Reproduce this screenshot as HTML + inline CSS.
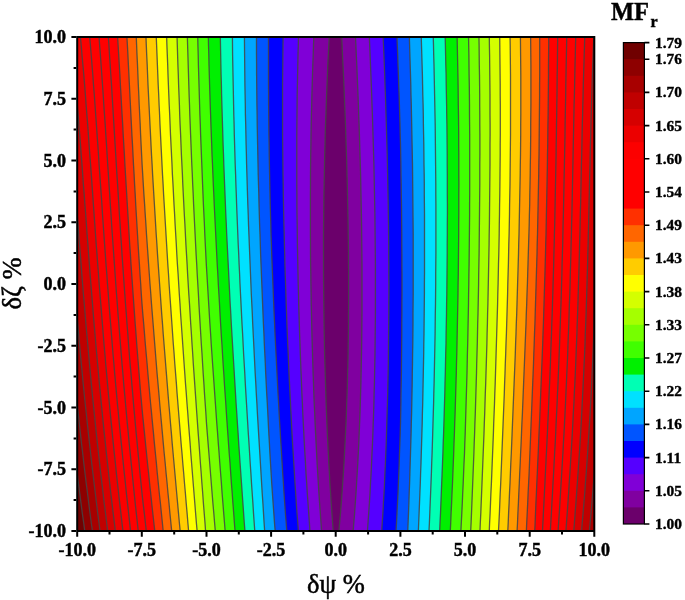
<!DOCTYPE html>
<html lang="en"><head><meta charset="utf-8"><title>MFr contour</title>
<style>html,body{margin:0;padding:0;background:#fff}body{width:685px;height:600px;overflow:hidden}</style></head>
<body>
<svg width="685" height="600" viewBox="0 0 685 600" style="display:block">
<rect width="685" height="600" fill="#fff"/>
<defs><clipPath id="c"><rect x="77.2" y="37.0" width="517.1" height="494.0"/></clipPath></defs>
<g clip-path="url(#c)">
<rect x="77.2" y="37.0" width="517.1" height="494.0" fill="#6b006b"/>
<polygon fill="#8000a0" points="329.3,35.0 328.8,45.0 328.3,54.9 327.8,64.9 327.4,74.8 327.0,84.8 326.6,94.8 326.2,104.7 325.9,114.7 325.5,124.6 325.2,134.6 325.0,144.6 324.7,154.5 324.5,164.5 324.3,174.4 324.1,184.4 323.9,194.4 323.8,204.3 323.7,214.3 323.6,224.2 323.5,234.2 323.5,244.2 323.5,254.1 323.5,264.1 323.5,274.0 323.6,284.0 323.7,294.0 323.8,303.9 323.9,313.9 324.0,323.8 324.2,333.8 324.4,343.8 324.6,353.7 324.9,363.7 325.2,373.6 325.5,383.6 325.8,393.6 326.1,403.5 326.5,413.5 326.9,423.4 327.3,433.4 327.8,443.4 328.3,453.3 328.8,463.3 329.4,473.2 329.9,483.2 330.6,493.2 331.2,503.1 331.9,513.1 332.6,523.0 333.4,533.0 -2.8,533.0 -2.8,35.0"/>
<polygon fill="#8000a0" points="341.6,35.0 342.1,45.0 342.5,54.9 343.0,64.9 343.5,74.8 343.9,84.8 344.3,94.8 344.7,104.7 345.1,114.7 345.5,124.6 345.8,134.6 346.1,144.6 346.5,154.5 346.8,164.5 347.0,174.4 347.3,184.4 347.5,194.4 347.7,204.3 347.9,214.3 348.1,224.2 348.2,234.2 348.4,244.2 348.5,254.1 348.5,264.1 348.6,274.0 348.6,284.0 348.6,294.0 348.6,303.9 348.5,313.9 348.5,323.8 348.4,333.8 348.2,343.8 348.1,353.7 347.9,363.7 347.6,373.6 347.4,383.6 347.1,393.6 346.7,403.5 346.4,413.5 346.0,423.4 345.5,433.4 345.0,443.4 344.5,453.3 344.0,463.3 343.4,473.2 342.7,483.2 342.0,493.2 341.3,503.1 340.5,513.1 339.6,523.0 338.7,533.0 674.3,533.0 674.3,35.0"/>
<polygon fill="#8000d7" points="313.9,35.0 313.5,45.0 313.2,54.9 312.8,64.9 312.5,74.8 312.2,84.8 311.9,94.8 311.7,104.7 311.4,114.7 311.2,124.6 311.0,134.6 310.9,144.6 310.7,154.5 310.6,164.5 310.5,174.4 310.5,184.4 310.4,194.4 310.4,204.3 310.4,214.3 310.4,224.2 310.4,234.2 310.5,244.2 310.5,254.1 310.6,264.1 310.8,274.0 310.9,284.0 311.1,294.0 311.2,303.9 311.5,313.9 311.7,323.8 311.9,333.8 312.2,343.8 312.5,353.7 312.8,363.7 313.1,373.6 313.5,383.6 313.8,393.6 314.2,403.5 314.7,413.5 315.1,423.4 315.6,433.4 316.1,443.4 316.6,453.3 317.1,463.3 317.7,473.2 318.3,483.2 318.9,493.2 319.6,503.1 320.3,513.1 321.0,523.0 321.7,533.0 -2.8,533.0 -2.8,35.0"/>
<polygon fill="#8000d7" points="355.4,35.0 355.9,45.0 356.3,54.9 356.8,64.9 357.2,74.8 357.6,84.8 358.0,94.8 358.4,104.7 358.7,114.7 359.1,124.6 359.4,134.6 359.7,144.6 360.0,154.5 360.3,164.5 360.6,174.4 360.8,184.4 361.0,194.4 361.2,204.3 361.4,214.3 361.6,224.2 361.7,234.2 361.8,244.2 361.9,254.1 362.0,264.1 362.0,274.0 362.0,284.0 362.0,294.0 362.0,303.9 362.0,313.9 361.9,323.8 361.8,333.8 361.7,343.8 361.5,353.7 361.3,363.7 361.1,373.6 360.9,383.6 360.6,393.6 360.3,403.5 360.0,413.5 359.6,423.4 359.2,433.4 358.8,443.4 358.3,453.3 357.8,463.3 357.2,473.2 356.6,483.2 356.0,493.2 355.3,503.1 354.6,513.1 353.8,523.0 353.0,533.0 674.3,533.0 674.3,35.0"/>
<polygon fill="#5500ff" points="298.5,35.0 298.3,45.0 298.0,54.9 297.8,64.9 297.6,74.8 297.4,84.8 297.2,94.8 297.1,104.7 297.0,114.7 296.9,124.6 296.8,134.6 296.8,144.6 296.8,154.5 296.8,164.5 296.8,174.4 296.8,184.4 296.9,194.4 296.9,204.3 297.0,214.3 297.2,224.2 297.3,234.2 297.4,244.2 297.6,254.1 297.8,264.1 298.0,274.0 298.2,284.0 298.5,294.0 298.7,303.9 299.0,313.9 299.3,323.8 299.6,333.8 300.0,343.8 300.3,353.7 300.7,363.7 301.1,373.6 301.5,383.6 301.9,393.6 302.4,403.5 302.8,413.5 303.3,423.4 303.8,433.4 304.3,443.4 304.9,453.3 305.5,463.3 306.0,473.2 306.7,483.2 307.3,493.2 308.0,503.1 308.7,513.1 309.4,523.0 310.1,533.0 -2.8,533.0 -2.8,35.0"/>
<polygon fill="#5500ff" points="369.2,35.0 369.7,45.0 370.1,54.9 370.5,64.9 370.9,74.8 371.3,84.8 371.7,94.8 372.0,104.7 372.4,114.7 372.7,124.6 373.0,134.6 373.3,144.6 373.6,154.5 373.9,164.5 374.1,174.4 374.3,184.4 374.5,194.4 374.7,204.3 374.9,214.3 375.0,224.2 375.1,234.2 375.2,244.2 375.3,254.1 375.4,264.1 375.4,274.0 375.4,284.0 375.4,294.0 375.4,303.9 375.4,313.9 375.3,323.8 375.2,333.8 375.1,343.8 375.0,353.7 374.8,363.7 374.6,373.6 374.4,383.6 374.1,393.6 373.9,403.5 373.6,413.5 373.2,423.4 372.9,433.4 372.5,443.4 372.0,453.3 371.6,463.3 371.1,473.2 370.5,483.2 370.0,493.2 369.4,503.1 368.7,513.1 368.0,523.0 367.3,533.0 674.3,533.0 674.3,35.0"/>
<polygon fill="#0000ff" points="283.2,35.0 283.0,45.0 282.9,54.9 282.8,64.9 282.7,74.8 282.6,84.8 282.6,94.8 282.6,104.7 282.6,114.7 282.6,124.6 282.6,134.6 282.7,144.6 282.8,154.5 282.9,164.5 283.0,174.4 283.2,184.4 283.3,194.4 283.5,204.3 283.7,214.3 283.9,224.2 284.2,234.2 284.4,244.2 284.7,254.1 284.9,264.1 285.2,274.0 285.6,284.0 285.9,294.0 286.2,303.9 286.6,313.9 286.9,323.8 287.3,333.8 287.7,343.8 288.2,353.7 288.6,363.7 289.0,373.6 289.5,383.6 290.0,393.6 290.5,403.5 291.0,413.5 291.5,423.4 292.0,433.4 292.6,443.4 293.2,453.3 293.8,463.3 294.4,473.2 295.0,483.2 295.7,493.2 296.3,503.1 297.0,513.1 297.8,523.0 298.5,533.0 -2.8,533.0 -2.8,35.0"/>
<polygon fill="#0000ff" points="383.0,35.0 383.5,45.0 383.9,54.9 384.3,64.9 384.7,74.8 385.0,84.8 385.4,94.8 385.7,104.7 386.0,114.7 386.3,124.6 386.6,134.6 386.9,144.6 387.2,154.5 387.4,164.5 387.6,174.4 387.8,184.4 388.0,194.4 388.2,204.3 388.3,214.3 388.5,224.2 388.6,234.2 388.7,244.2 388.7,254.1 388.8,264.1 388.8,274.0 388.9,284.0 388.9,294.0 388.8,303.9 388.8,313.9 388.7,323.8 388.6,333.8 388.5,343.8 388.4,353.7 388.3,363.7 388.1,373.6 387.9,383.6 387.7,393.6 387.4,403.5 387.1,413.5 386.8,423.4 386.5,433.4 386.2,443.4 385.8,453.3 385.4,463.3 384.9,473.2 384.5,483.2 384.0,493.2 383.4,503.1 382.9,513.1 382.2,523.0 381.6,533.0 674.3,533.0 674.3,35.0"/>
<polygon fill="#0055ff" points="268.5,35.0 268.5,45.0 268.5,54.9 268.5,64.9 268.5,74.8 268.5,84.8 268.6,94.8 268.6,104.7 268.7,114.7 268.8,124.6 268.9,134.6 269.1,144.6 269.2,154.5 269.4,164.5 269.6,174.4 269.8,184.4 270.0,194.4 270.2,204.3 270.5,214.3 270.8,224.2 271.0,234.2 271.4,244.2 271.7,254.1 272.1,264.1 272.5,274.0 272.9,284.0 273.3,294.0 273.7,303.9 274.1,313.9 274.6,323.8 275.0,333.8 275.5,343.8 276.0,353.7 276.5,363.7 277.0,373.6 277.5,383.6 278.0,393.6 278.6,403.5 279.1,413.5 279.7,423.4 280.3,433.4 280.9,443.4 281.5,453.3 282.1,463.3 282.7,473.2 283.4,483.2 284.0,493.2 284.7,503.1 285.4,513.1 286.2,523.0 286.9,533.0 -2.8,533.0 -2.8,35.0"/>
<polygon fill="#0055ff" points="396.9,35.0 397.3,45.0 397.7,54.9 398.0,64.9 398.4,74.8 398.7,84.8 399.1,94.8 399.4,104.7 399.7,114.7 400.0,124.6 400.2,134.6 400.5,144.6 400.7,154.5 400.9,164.5 401.0,174.4 401.2,184.4 401.3,194.4 401.5,204.3 401.6,214.3 401.7,224.2 401.8,234.2 401.8,244.2 401.9,254.1 401.9,264.1 402.0,274.0 402.0,284.0 402.0,294.0 401.9,303.9 401.9,313.9 401.8,323.8 401.8,333.8 401.7,343.8 401.6,353.7 401.5,363.7 401.4,373.6 401.2,383.6 401.0,393.6 400.9,403.5 400.7,413.5 400.5,423.4 400.2,433.4 399.9,443.4 399.5,453.3 399.2,463.3 398.8,473.2 398.4,483.2 398.0,493.2 397.5,503.1 397.0,513.1 396.5,523.0 395.9,533.0 674.3,533.0 674.3,35.0"/>
<polygon fill="#00a5ff" points="256.5,35.0 256.5,45.0 256.5,54.9 256.6,64.9 256.6,74.8 256.7,84.8 256.8,94.8 256.9,104.7 257.1,114.7 257.2,124.6 257.4,134.6 257.6,144.6 257.8,154.5 258.0,164.5 258.2,174.4 258.5,184.4 258.8,194.4 259.0,204.3 259.3,214.3 259.6,224.2 260.0,234.2 260.3,244.2 260.6,254.1 261.0,264.1 261.4,274.0 261.8,284.0 262.2,294.0 262.6,303.9 263.0,313.9 263.4,323.8 263.9,333.8 264.3,343.8 264.8,353.7 265.3,363.7 265.7,373.6 266.2,383.6 266.7,393.6 267.3,403.5 267.8,413.5 268.3,423.4 268.8,433.4 269.4,443.4 269.9,453.3 270.5,463.3 271.1,473.2 271.7,483.2 272.4,493.2 273.1,503.1 273.8,513.1 274.5,523.0 275.3,533.0 -2.8,533.0 -2.8,35.0"/>
<polygon fill="#00a5ff" points="409.3,35.0 409.6,45.0 409.9,54.9 410.2,64.9 410.5,74.8 410.8,84.8 411.0,94.8 411.3,104.7 411.5,114.7 411.7,124.6 411.9,134.6 412.1,144.6 412.3,154.5 412.5,164.5 412.6,174.4 412.7,184.4 412.8,194.4 412.9,204.3 413.0,214.3 413.1,224.2 413.2,234.2 413.2,244.2 413.2,254.1 413.2,264.1 413.2,274.0 413.2,284.0 413.2,294.0 413.1,303.9 413.0,313.9 413.0,323.8 412.9,333.8 412.8,343.8 412.6,353.7 412.5,363.7 412.3,373.6 412.2,383.6 412.0,393.6 411.8,403.5 411.6,413.5 411.3,423.4 411.1,433.4 410.8,443.4 410.5,453.3 410.2,463.3 409.9,473.2 409.6,483.2 409.2,493.2 408.9,503.1 408.5,513.1 408.1,523.0 407.7,533.0 674.3,533.0 674.3,35.0"/>
<polygon fill="#00e1ff" points="244.4,35.0 244.5,45.0 244.6,54.9 244.7,64.9 244.8,74.8 244.9,84.8 245.1,94.8 245.3,104.7 245.4,114.7 245.7,124.6 245.9,134.6 246.1,144.6 246.4,154.5 246.6,164.5 246.9,174.4 247.2,184.4 247.5,194.4 247.8,204.3 248.2,214.3 248.5,224.2 248.9,234.2 249.3,244.2 249.7,254.1 250.1,264.1 250.5,274.0 250.9,284.0 251.3,294.0 251.8,303.9 252.3,313.9 252.7,323.8 253.2,333.8 253.7,343.8 254.2,353.7 254.7,363.7 255.2,373.6 255.8,383.6 256.3,393.6 256.9,403.5 257.4,413.5 258.0,423.4 258.6,433.4 259.2,443.4 259.8,453.3 260.4,463.3 261.0,473.2 261.6,483.2 262.2,493.2 262.9,503.1 263.5,513.1 264.1,523.0 264.8,533.0 -2.8,533.0 -2.8,35.0"/>
<polygon fill="#00e1ff" points="421.2,35.0 421.5,45.0 421.8,54.9 422.1,64.9 422.4,74.8 422.6,84.8 422.8,94.8 423.1,104.7 423.3,114.7 423.4,124.6 423.6,134.6 423.8,144.6 423.9,154.5 424.0,164.5 424.2,174.4 424.3,184.4 424.3,194.4 424.4,204.3 424.5,214.3 424.5,224.2 424.5,234.2 424.5,244.2 424.5,254.1 424.5,264.1 424.5,274.0 424.4,284.0 424.4,294.0 424.3,303.9 424.2,313.9 424.1,323.8 424.0,333.8 423.8,343.8 423.7,353.7 423.5,363.7 423.3,373.6 423.1,383.6 422.9,393.6 422.7,403.5 422.4,413.5 422.2,423.4 421.9,433.4 421.6,443.4 421.3,453.3 421.0,463.3 420.6,473.2 420.3,483.2 419.9,493.2 419.5,503.1 419.1,513.1 418.7,523.0 418.3,533.0 674.3,533.0 674.3,35.0"/>
<polygon fill="#00ffb4" points="232.4,35.0 232.5,45.0 232.6,54.9 232.8,64.9 233.0,74.8 233.2,84.8 233.4,94.8 233.6,104.7 233.8,114.7 234.1,124.6 234.3,134.6 234.6,144.6 234.9,154.5 235.2,164.5 235.6,174.4 235.9,184.4 236.3,194.4 236.6,204.3 237.0,214.3 237.4,224.2 237.8,234.2 238.2,244.2 238.7,254.1 239.1,264.1 239.6,274.0 240.0,284.0 240.5,294.0 241.0,303.9 241.5,313.9 242.0,323.8 242.6,333.8 243.1,343.8 243.6,353.7 244.2,363.7 244.8,373.6 245.3,383.6 245.9,393.6 246.5,403.5 247.1,413.5 247.7,423.4 248.3,433.4 249.0,443.4 249.6,453.3 250.2,463.3 250.9,473.2 251.5,483.2 252.2,493.2 252.9,503.1 253.5,513.1 254.2,523.0 254.9,533.0 -2.8,533.0 -2.8,35.0"/>
<polygon fill="#00ffb4" points="433.2,35.0 433.5,45.0 433.7,54.9 434.0,64.9 434.2,74.8 434.4,84.8 434.6,94.8 434.8,104.7 435.0,114.7 435.2,124.6 435.3,134.6 435.4,144.6 435.5,154.5 435.6,164.5 435.7,174.4 435.8,184.4 435.8,194.4 435.9,204.3 435.9,214.3 435.9,224.2 435.9,234.2 435.9,244.2 435.9,254.1 435.8,264.1 435.7,274.0 435.7,284.0 435.6,294.0 435.5,303.9 435.3,313.9 435.2,323.8 435.1,333.8 434.9,343.8 434.7,353.7 434.5,363.7 434.3,373.6 434.1,383.6 433.8,393.6 433.6,403.5 433.3,413.5 433.0,423.4 432.7,433.4 432.4,443.4 432.1,453.3 431.7,463.3 431.4,473.2 431.0,483.2 430.6,493.2 430.2,503.1 429.8,513.1 429.4,523.0 428.9,533.0 674.3,533.0 674.3,35.0"/>
<polygon fill="#00f000" points="220.3,35.0 220.5,45.0 220.7,54.9 220.9,64.9 221.1,74.8 221.4,84.8 221.6,94.8 221.9,104.7 222.2,114.7 222.5,124.6 222.8,134.6 223.1,144.6 223.5,154.5 223.8,164.5 224.2,174.4 224.6,184.4 225.0,194.4 225.4,204.3 225.8,214.3 226.3,224.2 226.7,234.2 227.2,244.2 227.7,254.1 228.2,264.1 228.7,274.0 229.2,284.0 229.7,294.0 230.2,303.9 230.8,313.9 231.3,323.8 231.9,333.8 232.5,343.8 233.1,353.7 233.7,363.7 234.3,373.6 234.9,383.6 235.5,393.6 236.1,403.5 236.8,413.5 237.4,423.4 238.1,433.4 238.7,443.4 239.4,453.3 240.1,463.3 240.8,473.2 241.5,483.2 242.2,493.2 242.9,503.1 243.6,513.1 244.3,523.0 245.1,533.0 -2.8,533.0 -2.8,35.0"/>
<polygon fill="#00f000" points="445.1,35.0 445.4,45.0 445.6,54.9 445.8,64.9 446.1,74.8 446.2,84.8 446.4,94.8 446.6,104.7 446.7,114.7 446.9,124.6 447.0,134.6 447.1,144.6 447.2,154.5 447.2,164.5 447.3,174.4 447.3,184.4 447.3,194.4 447.4,204.3 447.4,214.3 447.3,224.2 447.3,234.2 447.2,244.2 447.2,254.1 447.1,264.1 447.0,274.0 446.9,284.0 446.8,294.0 446.6,303.9 446.5,313.9 446.3,323.8 446.1,333.8 446.0,343.8 445.7,353.7 445.5,363.7 445.3,373.6 445.0,383.6 444.8,393.6 444.5,403.5 444.2,413.5 443.9,423.4 443.6,433.4 443.2,443.4 442.9,453.3 442.5,463.3 442.1,473.2 441.7,483.2 441.3,493.2 440.9,503.1 440.5,513.1 440.0,523.0 439.6,533.0 674.3,533.0 674.3,35.0"/>
<polygon fill="#40ff00" points="208.3,35.0 208.5,45.0 208.8,54.9 209.0,64.9 209.3,74.8 209.6,84.8 209.9,94.8 210.2,104.7 210.6,114.7 210.9,124.6 211.3,134.6 211.7,144.6 212.0,154.5 212.5,164.5 212.9,174.4 213.3,184.4 213.8,194.4 214.2,204.3 214.7,214.3 215.2,224.2 215.7,234.2 216.2,244.2 216.7,254.1 217.2,264.1 217.8,274.0 218.3,284.0 218.9,294.0 219.5,303.9 220.0,313.9 220.6,323.8 221.2,333.8 221.9,343.8 222.5,353.7 223.1,363.7 223.8,373.6 224.4,383.6 225.1,393.6 225.8,403.5 226.4,413.5 227.1,423.4 227.8,433.4 228.5,443.4 229.2,453.3 230.0,463.3 230.7,473.2 231.4,483.2 232.2,493.2 232.9,503.1 233.7,513.1 234.4,523.0 235.2,533.0 -2.8,533.0 -2.8,35.0"/>
<polygon fill="#40ff00" points="457.1,35.0 457.3,45.0 457.5,54.9 457.7,64.9 457.9,74.8 458.1,84.8 458.2,94.8 458.3,104.7 458.5,114.7 458.6,124.6 458.7,134.6 458.7,144.6 458.8,154.5 458.8,164.5 458.8,174.4 458.9,184.4 458.8,194.4 458.8,204.3 458.8,214.3 458.7,224.2 458.7,234.2 458.6,244.2 458.5,254.1 458.4,264.1 458.3,274.0 458.1,284.0 458.0,294.0 457.8,303.9 457.6,313.9 457.4,323.8 457.2,333.8 457.0,343.8 456.8,353.7 456.5,363.7 456.3,373.6 456.0,383.6 455.7,393.6 455.4,403.5 455.1,413.5 454.7,423.4 454.4,433.4 454.0,443.4 453.7,453.3 453.3,463.3 452.9,473.2 452.5,483.2 452.0,493.2 451.6,503.1 451.1,513.1 450.7,523.0 450.2,533.0 674.3,533.0 674.3,35.0"/>
<polygon fill="#76ff00" points="197.7,35.0 197.9,45.0 198.2,54.9 198.4,64.9 198.7,74.8 199.0,84.8 199.3,94.8 199.6,104.7 199.9,114.7 200.3,124.6 200.6,134.6 201.0,144.6 201.4,154.5 201.8,164.5 202.2,174.4 202.6,184.4 203.0,194.4 203.4,204.3 203.9,214.3 204.4,224.2 204.8,234.2 205.3,244.2 205.8,254.1 206.3,264.1 206.9,274.0 207.5,284.0 208.1,294.0 208.7,303.9 209.3,313.9 209.9,323.8 210.6,333.8 211.2,343.8 211.9,353.7 212.6,363.7 213.3,373.6 214.0,383.6 214.7,393.6 215.4,403.5 216.1,413.5 216.8,423.4 217.6,433.4 218.3,443.4 219.1,453.3 219.8,463.3 220.6,473.2 221.4,483.2 222.1,493.2 222.9,503.1 223.7,513.1 224.5,523.0 225.3,533.0 -2.8,533.0 -2.8,35.0"/>
<polygon fill="#76ff00" points="468.5,35.0 468.7,45.0 468.9,54.9 469.0,64.9 469.1,74.8 469.3,84.8 469.4,94.8 469.5,104.7 469.5,114.7 469.6,124.6 469.7,134.6 469.7,144.6 469.7,154.5 469.7,164.5 469.7,174.4 469.7,184.4 469.7,194.4 469.6,204.3 469.6,214.3 469.5,224.2 469.4,234.2 469.3,244.2 469.2,254.1 469.1,264.1 468.9,274.0 468.8,284.0 468.6,294.0 468.5,303.9 468.3,313.9 468.1,323.8 467.9,333.8 467.7,343.8 467.4,353.7 467.2,363.7 467.0,373.6 466.7,383.6 466.4,393.6 466.1,403.5 465.8,413.5 465.5,423.4 465.2,433.4 464.8,443.4 464.5,453.3 464.0,463.3 463.6,473.2 463.2,483.2 462.7,493.2 462.3,503.1 461.8,513.1 461.3,523.0 460.8,533.0 674.3,533.0 674.3,35.0"/>
<polygon fill="#a5ff00" points="187.3,35.0 187.6,45.0 187.9,54.9 188.2,64.9 188.5,74.8 188.8,84.8 189.1,94.8 189.5,104.7 189.8,114.7 190.2,124.6 190.6,134.6 191.0,144.6 191.4,154.5 191.8,164.5 192.3,174.4 192.7,184.4 193.2,194.4 193.6,204.3 194.1,214.3 194.6,224.2 195.1,234.2 195.6,244.2 196.1,254.1 196.7,264.1 197.2,274.0 197.8,284.0 198.4,294.0 198.9,303.9 199.5,313.9 200.1,323.8 200.7,333.8 201.3,343.8 202.0,353.7 202.6,363.7 203.2,373.6 203.9,383.6 204.5,393.6 205.2,403.5 205.9,413.5 206.5,423.4 207.3,433.4 208.1,443.4 208.9,453.3 209.7,463.3 210.5,473.2 211.3,483.2 212.1,493.2 212.9,503.1 213.8,513.1 214.6,523.0 215.5,533.0 -2.8,533.0 -2.8,35.0"/>
<polygon fill="#a5ff00" points="478.9,35.0 479.1,45.0 479.2,54.9 479.3,64.9 479.5,74.8 479.6,84.8 479.7,94.8 479.7,104.7 479.8,114.7 479.8,124.6 479.9,134.6 479.9,144.6 479.9,154.5 479.8,164.5 479.8,174.4 479.8,184.4 479.7,194.4 479.6,204.3 479.5,214.3 479.4,224.2 479.3,234.2 479.2,244.2 479.1,254.1 478.9,264.1 478.7,274.0 478.6,284.0 478.4,294.0 478.2,303.9 478.0,313.9 477.7,323.8 477.5,333.8 477.3,343.8 477.0,353.7 476.7,363.7 476.5,373.6 476.2,383.6 475.9,393.6 475.6,403.5 475.3,413.5 474.9,423.4 474.6,433.4 474.2,443.4 473.9,453.3 473.5,463.3 473.1,473.2 472.7,483.2 472.3,493.2 471.9,503.1 471.5,513.1 471.1,523.0 470.6,533.0 674.3,533.0 674.3,35.0"/>
<polygon fill="#d4ff00" points="177.0,35.0 177.3,45.0 177.6,54.9 177.9,64.9 178.3,74.8 178.6,84.8 179.0,94.8 179.4,104.7 179.7,114.7 180.1,124.6 180.6,134.6 181.0,144.6 181.4,154.5 181.9,164.5 182.4,174.4 182.8,184.4 183.3,194.4 183.8,204.3 184.3,214.3 184.9,224.2 185.4,234.2 185.9,244.2 186.5,254.1 187.1,264.1 187.6,274.0 188.2,284.0 188.8,294.0 189.5,303.9 190.1,313.9 190.7,323.8 191.4,333.8 192.0,343.8 192.7,353.7 193.3,363.7 194.0,373.6 194.7,383.6 195.4,393.6 196.1,403.5 196.8,413.5 197.5,423.4 198.2,433.4 199.0,443.4 199.7,453.3 200.4,463.3 201.2,473.2 201.9,483.2 202.7,493.2 203.4,503.1 204.2,513.1 205.0,523.0 205.7,533.0 -2.8,533.0 -2.8,35.0"/>
<polygon fill="#d4ff00" points="489.3,35.0 489.4,45.0 489.6,54.9 489.7,64.9 489.8,74.8 489.9,84.8 490.0,94.8 490.0,104.7 490.0,114.7 490.1,124.6 490.1,134.6 490.0,144.6 490.0,154.5 490.0,164.5 489.9,174.4 489.8,184.4 489.7,194.4 489.6,204.3 489.5,214.3 489.4,224.2 489.2,234.2 489.1,244.2 488.9,254.1 488.7,264.1 488.5,274.0 488.3,284.0 488.1,294.0 487.9,303.9 487.6,313.9 487.4,323.8 487.1,333.8 486.9,343.8 486.6,353.7 486.3,363.7 486.0,373.6 485.7,383.6 485.3,393.6 485.0,403.5 484.7,413.5 484.3,423.4 484.0,433.4 483.6,443.4 483.2,453.3 482.8,463.3 482.4,473.2 482.0,483.2 481.6,493.2 481.2,503.1 480.8,513.1 480.3,523.0 479.9,533.0 674.3,533.0 674.3,35.0"/>
<polygon fill="#ffff00" points="166.6,35.0 166.9,45.0 167.3,54.9 167.7,64.9 168.0,74.8 168.4,84.8 168.8,94.8 169.2,104.7 169.7,114.7 170.1,124.6 170.5,134.6 171.0,144.6 171.5,154.5 172.0,164.5 172.4,174.4 173.0,184.4 173.5,194.4 174.0,204.3 174.6,214.3 175.1,224.2 175.7,234.2 176.3,244.2 176.8,254.1 177.4,264.1 178.1,274.0 178.7,284.0 179.3,294.0 180.0,303.9 180.6,313.9 181.3,323.8 182.0,333.8 182.7,343.8 183.4,353.7 184.1,363.7 184.8,373.6 185.5,383.6 186.3,393.6 187.0,403.5 187.8,413.5 188.5,423.4 189.3,433.4 190.1,443.4 190.8,453.3 191.6,463.3 192.4,473.2 193.2,483.2 194.0,493.2 194.8,503.1 195.6,513.1 196.4,523.0 197.3,533.0 -2.8,533.0 -2.8,35.0"/>
<polygon fill="#ffff00" points="499.7,35.0 499.8,45.0 499.9,54.9 500.0,64.9 500.1,74.8 500.2,84.8 500.2,94.8 500.3,104.7 500.3,114.7 500.3,124.6 500.3,134.6 500.2,144.6 500.2,154.5 500.1,164.5 500.0,174.4 499.9,184.4 499.8,194.4 499.6,204.3 499.5,214.3 499.3,224.2 499.2,234.2 499.0,244.2 498.8,254.1 498.5,264.1 498.3,274.0 498.1,284.0 497.8,294.0 497.6,303.9 497.3,313.9 497.0,323.8 496.7,333.8 496.4,343.8 496.1,353.7 495.8,363.7 495.5,373.6 495.2,383.6 494.8,393.6 494.5,403.5 494.1,413.5 493.7,423.4 493.4,433.4 493.0,443.4 492.6,453.3 492.2,463.3 491.8,473.2 491.4,483.2 490.9,493.2 490.5,503.1 490.1,513.1 489.6,523.0 489.2,533.0 674.3,533.0 674.3,35.0"/>
<polygon fill="#ffcc00" points="156.2,35.0 156.6,45.0 157.0,54.9 157.4,64.9 157.8,74.8 158.2,84.8 158.7,94.8 159.1,104.7 159.6,114.7 160.0,124.6 160.5,134.6 161.0,144.6 161.5,154.5 162.0,164.5 162.5,174.4 163.1,184.4 163.6,194.4 164.2,204.3 164.8,214.3 165.4,224.2 166.0,234.2 166.6,244.2 167.2,254.1 167.8,264.1 168.5,274.0 169.1,284.0 169.8,294.0 170.5,303.9 171.2,313.9 171.9,323.8 172.6,333.8 173.3,343.8 174.1,353.7 174.8,363.7 175.6,373.6 176.4,383.6 177.1,393.6 177.9,403.5 178.7,413.5 179.5,423.4 180.3,433.4 181.1,443.4 182.0,453.3 182.8,463.3 183.7,473.2 184.5,483.2 185.4,493.2 186.2,503.1 187.1,513.1 187.9,523.0 188.8,533.0 -2.8,533.0 -2.8,35.0"/>
<polygon fill="#ffcc00" points="510.0,35.0 510.2,45.0 510.3,54.9 510.4,64.9 510.5,74.8 510.5,84.8 510.5,94.8 510.5,104.7 510.5,114.7 510.5,124.6 510.5,134.6 510.4,144.6 510.3,154.5 510.2,164.5 510.1,174.4 510.0,184.4 509.8,194.4 509.6,204.3 509.5,214.3 509.3,224.2 509.1,234.2 508.8,244.2 508.6,254.1 508.4,264.1 508.1,274.0 507.8,284.0 507.6,294.0 507.3,303.9 507.0,313.9 506.7,323.8 506.4,333.8 506.0,343.8 505.7,353.7 505.3,363.7 505.0,373.6 504.6,383.6 504.3,393.6 503.9,403.5 503.5,413.5 503.1,423.4 502.7,433.4 502.3,443.4 501.9,453.3 501.5,463.3 501.1,473.2 500.7,483.2 500.2,493.2 499.8,503.1 499.4,513.1 498.9,523.0 498.4,533.0 674.3,533.0 674.3,35.0"/>
<polygon fill="#ff9900" points="145.9,35.0 146.3,45.0 146.7,54.9 147.2,64.9 147.6,74.8 148.0,84.8 148.5,94.8 149.0,104.7 149.5,114.7 150.0,124.6 150.5,134.6 151.0,144.6 151.5,154.5 152.1,164.5 152.6,174.4 153.2,184.4 153.8,194.4 154.4,204.3 155.0,214.3 155.6,224.2 156.2,234.2 156.9,244.2 157.5,254.1 158.2,264.1 158.9,274.0 159.6,284.0 160.3,294.0 161.0,303.9 161.7,313.9 162.5,323.8 163.2,333.8 164.0,343.8 164.8,353.7 165.6,363.7 166.4,373.6 167.2,383.6 168.0,393.6 168.8,403.5 169.7,413.5 170.5,423.4 171.4,433.4 172.2,443.4 173.1,453.3 174.0,463.3 174.9,473.2 175.8,483.2 176.7,493.2 177.6,503.1 178.5,513.1 179.4,523.0 180.4,533.0 -2.8,533.0 -2.8,35.0"/>
<polygon fill="#ff9900" points="520.4,35.0 520.5,45.0 520.6,54.9 520.7,64.9 520.8,74.8 520.8,84.8 520.8,94.8 520.8,104.7 520.8,114.7 520.7,124.6 520.7,134.6 520.6,144.6 520.5,154.5 520.3,164.5 520.2,174.4 520.0,184.4 519.8,194.4 519.6,204.3 519.4,214.3 519.2,224.2 519.0,234.2 518.7,244.2 518.5,254.1 518.2,264.1 517.9,274.0 517.6,284.0 517.3,294.0 517.0,303.9 516.7,313.9 516.3,323.8 516.0,333.8 515.6,343.8 515.3,353.7 514.9,363.7 514.5,373.6 514.1,383.6 513.7,393.6 513.3,403.5 512.9,413.5 512.5,423.4 512.1,433.4 511.7,443.4 511.3,453.3 510.8,463.3 510.4,473.2 510.0,483.2 509.5,493.2 509.1,503.1 508.6,513.1 508.2,523.0 507.7,533.0 674.3,533.0 674.3,35.0"/>
<polygon fill="#ff6600" points="136.2,35.0 136.6,45.0 137.0,54.9 137.5,64.9 137.9,74.8 138.3,84.8 138.8,94.8 139.2,104.7 139.7,114.7 140.2,124.6 140.6,134.6 141.1,144.6 141.6,154.5 142.1,164.5 142.7,174.4 143.3,184.4 143.9,194.4 144.6,204.3 145.2,214.3 145.9,224.2 146.5,234.2 147.2,244.2 147.9,254.1 148.6,264.1 149.3,274.0 150.0,284.0 150.8,294.0 151.5,303.9 152.3,313.9 153.1,323.8 153.9,333.8 154.7,343.8 155.5,353.7 156.3,363.7 157.1,373.6 158.0,383.6 158.9,393.6 159.7,403.5 160.6,413.5 161.5,423.4 162.4,433.4 163.3,443.4 164.2,453.3 165.2,463.3 166.1,473.2 167.1,483.2 168.0,493.2 169.0,503.1 169.9,513.1 170.9,523.0 171.9,533.0 -2.8,533.0 -2.8,35.0"/>
<polygon fill="#ff6600" points="530.6,35.0 530.7,45.0 530.8,54.9 530.9,64.9 530.9,74.8 530.9,84.8 530.9,94.8 530.9,104.7 530.8,114.7 530.7,124.6 530.7,134.6 530.6,144.6 530.5,154.5 530.3,164.5 530.2,174.4 530.0,184.4 529.8,194.4 529.7,204.3 529.4,214.3 529.2,224.2 528.9,234.2 528.6,244.2 528.3,254.1 528.0,264.1 527.7,274.0 527.4,284.0 527.0,294.0 526.7,303.9 526.3,313.9 526.0,323.8 525.6,333.8 525.2,343.8 524.8,353.7 524.4,363.7 524.0,373.6 523.6,383.6 523.2,393.6 522.8,403.5 522.4,413.5 521.9,423.4 521.5,433.4 521.1,443.4 520.6,453.3 520.2,463.3 519.7,473.2 519.3,483.2 518.8,493.2 518.4,503.1 517.9,513.1 517.5,523.0 517.0,533.0 674.3,533.0 674.3,35.0"/>
<polygon fill="#ff3000" points="126.8,35.0 127.4,45.0 127.9,54.9 128.4,64.9 128.9,74.8 129.4,84.8 129.9,94.8 130.4,104.7 130.9,114.7 131.4,124.6 131.9,134.6 132.5,144.6 133.0,154.5 133.5,164.5 134.1,174.4 134.6,184.4 135.2,194.4 135.7,204.3 136.3,214.3 136.9,224.2 137.5,234.2 138.1,244.2 138.7,254.1 139.4,264.1 140.0,274.0 140.7,284.0 141.3,294.0 142.0,303.9 142.8,313.9 143.7,323.8 144.5,333.8 145.3,343.8 146.2,353.7 147.1,363.7 147.9,373.6 148.8,383.6 149.7,393.6 150.6,403.5 151.6,413.5 152.5,423.4 153.5,433.4 154.4,443.4 155.4,453.3 156.4,463.3 157.3,473.2 158.3,483.2 159.3,493.2 160.4,503.1 161.4,513.1 162.4,523.0 163.4,533.0 -2.8,533.0 -2.8,35.0"/>
<polygon fill="#ff3000" points="539.7,35.0 539.7,45.0 539.7,54.9 539.7,64.9 539.7,74.8 539.6,84.8 539.6,94.8 539.5,104.7 539.4,114.7 539.3,124.6 539.2,134.6 539.1,144.6 539.0,154.5 538.8,164.5 538.7,174.4 538.5,184.4 538.3,194.4 538.1,204.3 537.9,214.3 537.7,224.2 537.5,234.2 537.2,244.2 537.0,254.1 536.7,264.1 536.4,274.0 536.1,284.0 535.8,294.0 535.5,303.9 535.2,313.9 534.9,323.8 534.5,333.8 534.2,343.8 533.8,353.7 533.5,363.7 533.1,373.6 532.7,383.6 532.3,393.6 531.9,403.5 531.5,413.5 531.1,423.4 530.7,433.4 530.3,443.4 529.9,453.3 529.5,463.3 529.1,473.2 528.6,483.2 528.1,493.2 527.7,503.1 527.2,513.1 526.7,523.0 526.3,533.0 674.3,533.0 674.3,35.0"/>
<polygon fill="#ff0000" points="117.5,35.0 118.1,45.0 118.7,54.9 119.3,64.9 119.9,74.8 120.4,84.8 121.0,94.8 121.5,104.7 122.1,114.7 122.7,124.6 123.2,134.6 123.8,144.6 124.4,154.5 124.9,164.5 125.5,174.4 126.1,184.4 126.7,194.4 127.3,204.3 127.9,214.3 128.5,224.2 129.1,234.2 129.7,244.2 130.4,254.1 131.0,264.1 131.7,274.0 132.4,284.0 133.1,294.0 133.8,303.9 134.5,313.9 135.2,323.8 136.0,333.8 136.7,343.8 137.5,353.7 138.3,363.7 139.1,373.6 139.9,383.6 140.7,393.6 141.6,403.5 142.5,413.5 143.5,423.4 144.5,433.4 145.5,443.4 146.5,453.3 147.5,463.3 148.6,473.2 149.6,483.2 150.7,493.2 151.7,503.1 152.8,513.1 153.9,523.0 155.0,533.0 -2.8,533.0 -2.8,35.0"/>
<polygon fill="#ff0000" points="548.7,35.0 548.7,45.0 548.6,54.9 548.5,64.9 548.5,74.8 548.4,84.8 548.3,94.8 548.2,104.7 548.1,114.7 547.9,124.6 547.8,134.6 547.7,144.6 547.5,154.5 547.4,164.5 547.2,174.4 547.0,184.4 546.8,194.4 546.6,204.3 546.4,214.3 546.2,224.2 546.0,234.2 545.7,244.2 545.5,254.1 545.2,264.1 544.9,274.0 544.6,284.0 544.3,294.0 544.0,303.9 543.7,313.9 543.4,323.8 543.0,333.8 542.7,343.8 542.3,353.7 541.9,363.7 541.5,373.6 541.1,383.6 540.7,393.6 540.3,403.5 539.9,413.5 539.5,423.4 539.0,433.4 538.6,443.4 538.2,453.3 537.7,463.3 537.3,473.2 536.8,483.2 536.4,493.2 535.9,503.1 535.5,513.1 535.1,523.0 534.6,533.0 674.3,533.0 674.3,35.0"/>
<polygon fill="#ff0000" points="108.2,35.0 108.9,45.0 109.5,54.9 110.2,64.9 110.8,74.8 111.5,84.8 112.1,94.8 112.7,104.7 113.3,114.7 113.9,124.6 114.5,134.6 115.1,144.6 115.7,154.5 116.3,164.5 116.9,174.4 117.6,184.4 118.2,194.4 118.8,204.3 119.4,214.3 120.1,224.2 120.7,234.2 121.4,244.2 122.0,254.1 122.7,264.1 123.4,274.0 124.1,284.0 124.8,294.0 125.5,303.9 126.3,313.9 127.0,323.8 127.8,333.8 128.5,343.8 129.3,353.7 130.1,363.7 131.0,373.6 131.8,383.6 132.7,393.6 133.5,403.5 134.4,413.5 135.3,423.4 136.2,433.4 137.2,443.4 138.1,453.3 139.1,463.3 140.0,473.2 141.0,483.2 142.0,493.2 143.1,503.1 144.3,513.1 145.4,523.0 146.5,533.0 -2.8,533.0 -2.8,35.0"/>
<polygon fill="#ff0000" points="557.7,35.0 557.6,45.0 557.5,54.9 557.4,64.9 557.2,74.8 557.1,84.8 557.0,94.8 556.8,104.7 556.7,114.7 556.5,124.6 556.4,134.6 556.2,144.6 556.1,154.5 555.9,164.5 555.7,174.4 555.5,184.4 555.3,194.4 555.1,204.3 554.9,214.3 554.7,224.2 554.4,234.2 554.2,244.2 553.9,254.1 553.7,264.1 553.4,274.0 553.1,284.0 552.8,294.0 552.5,303.9 552.2,313.9 551.8,323.8 551.5,333.8 551.1,343.8 550.7,353.7 550.4,363.7 550.0,373.6 549.6,383.6 549.1,393.6 548.7,403.5 548.3,413.5 547.8,423.4 547.4,433.4 546.9,443.4 546.4,453.3 545.9,463.3 545.4,473.2 544.9,483.2 544.4,493.2 543.9,503.1 543.4,513.1 542.9,523.0 542.4,533.0 674.3,533.0 674.3,35.0"/>
<polygon fill="#ff0000" points="98.9,35.0 99.6,45.0 100.4,54.9 101.1,64.9 101.8,74.8 102.5,84.8 103.2,94.8 103.8,104.7 104.5,114.7 105.2,124.6 105.8,134.6 106.5,144.6 107.1,154.5 107.7,164.5 108.4,174.4 109.0,184.4 109.7,194.4 110.3,204.3 111.0,214.3 111.6,224.2 112.3,234.2 113.0,244.2 113.7,254.1 114.4,264.1 115.1,274.0 115.8,284.0 116.5,294.0 117.3,303.9 118.0,313.9 118.8,323.8 119.6,333.8 120.4,343.8 121.2,353.7 122.0,363.7 122.9,373.6 123.7,383.6 124.6,393.6 125.5,403.5 126.4,413.5 127.3,423.4 128.3,433.4 129.2,443.4 130.2,453.3 131.2,463.3 132.2,473.2 133.2,483.2 134.2,493.2 135.2,503.1 136.3,513.1 137.4,523.0 138.4,533.0 -2.8,533.0 -2.8,35.0"/>
<polygon fill="#ff0000" points="566.8,35.0 566.6,45.0 566.4,54.9 566.2,64.9 566.0,74.8 565.8,84.8 565.7,94.8 565.5,104.7 565.3,114.7 565.1,124.6 565.0,134.6 564.8,144.6 564.6,154.5 564.4,164.5 564.2,174.4 564.0,184.4 563.8,194.4 563.6,204.3 563.4,214.3 563.1,224.2 562.9,234.2 562.7,244.2 562.4,254.1 562.1,264.1 561.9,274.0 561.6,284.0 561.3,294.0 561.0,303.9 560.6,313.9 560.3,323.8 559.9,333.8 559.6,343.8 559.2,353.7 558.8,363.7 558.4,373.6 558.0,383.6 557.5,393.6 557.1,403.5 556.6,413.5 556.1,423.4 555.7,433.4 555.2,443.4 554.6,453.3 554.1,463.3 553.6,473.2 553.0,483.2 552.5,493.2 551.9,503.1 551.4,513.1 550.8,523.0 550.2,533.0 674.3,533.0 674.3,35.0"/>
<polygon fill="#fc0000" points="89.5,35.0 90.4,45.0 91.2,54.9 92.0,64.9 92.8,74.8 93.5,84.8 94.3,94.8 95.0,104.7 95.7,114.7 96.4,124.6 97.1,134.6 97.8,144.6 98.5,154.5 99.1,164.5 99.8,174.4 100.5,184.4 101.2,194.4 101.9,204.3 102.5,214.3 103.2,224.2 103.9,234.2 104.6,244.2 105.3,254.1 106.0,264.1 106.8,274.0 107.5,284.0 108.3,294.0 109.0,303.9 109.8,313.9 110.6,323.8 111.4,333.8 112.2,343.8 113.0,353.7 113.9,363.7 114.7,373.6 115.6,383.6 116.5,393.6 117.4,403.5 118.4,413.5 119.3,423.4 120.3,433.4 121.3,443.4 122.3,453.3 123.3,463.3 124.3,473.2 125.4,483.2 126.4,493.2 127.5,503.1 128.6,513.1 129.7,523.0 130.8,533.0 -2.8,533.0 -2.8,35.0"/>
<polygon fill="#fc0000" points="575.8,35.0 575.5,45.0 575.3,54.9 575.0,64.9 574.8,74.8 574.6,84.8 574.4,94.8 574.1,104.7 573.9,114.7 573.7,124.6 573.5,134.6 573.3,144.6 573.1,154.5 572.9,164.5 572.7,174.4 572.5,184.4 572.3,194.4 572.1,204.3 571.9,214.3 571.6,224.2 571.4,234.2 571.1,244.2 570.9,254.1 570.6,264.1 570.3,274.0 570.1,284.0 569.8,294.0 569.4,303.9 569.1,313.9 568.8,323.8 568.4,333.8 568.0,343.8 567.7,353.7 567.3,363.7 566.8,373.6 566.4,383.6 565.9,393.6 565.5,403.5 565.0,413.5 564.5,423.4 564.0,433.4 563.4,443.4 562.9,453.3 562.3,463.3 561.7,473.2 561.1,483.2 560.5,493.2 559.9,503.1 559.3,513.1 558.6,523.0 558.0,533.0 674.3,533.0 674.3,35.0"/>
<polygon fill="#ec0000" points="80.2,35.0 81.2,45.0 82.0,54.9 82.9,64.9 83.8,74.8 84.6,84.8 85.4,94.8 86.1,104.7 86.9,114.7 87.7,124.6 88.4,134.6 89.1,144.6 89.8,154.5 90.6,164.5 91.3,174.4 92.0,184.4 92.7,194.4 93.4,204.3 94.1,214.3 94.8,224.2 95.5,234.2 96.2,244.2 97.0,254.1 97.7,264.1 98.5,274.0 99.2,284.0 100.0,294.0 100.8,303.9 101.6,313.9 102.4,323.8 103.2,333.8 104.0,343.8 104.9,353.7 105.7,363.7 106.6,373.6 107.5,383.6 108.4,393.6 109.4,403.5 110.3,413.5 111.3,423.4 112.3,433.4 113.3,443.4 114.3,453.3 115.4,463.3 116.4,473.2 117.5,483.2 118.6,493.2 119.7,503.1 120.9,513.1 122.0,523.0 123.2,533.0 -2.8,533.0 -2.8,35.0"/>
<polygon fill="#ec0000" points="584.8,35.0 584.5,45.0 584.2,54.9 583.9,64.9 583.6,74.8 583.3,84.8 583.1,94.8 582.8,104.7 582.6,114.7 582.3,124.6 582.1,134.6 581.9,144.6 581.7,154.5 581.4,164.5 581.2,174.4 581.0,184.4 580.8,194.4 580.6,204.3 580.3,214.3 580.1,224.2 579.9,234.2 579.6,244.2 579.4,254.1 579.1,264.1 578.8,274.0 578.5,284.0 578.2,294.0 577.9,303.9 577.6,313.9 577.2,323.8 576.9,333.8 576.5,343.8 576.1,353.7 575.7,363.7 575.3,373.6 574.8,383.6 574.3,393.6 573.9,403.5 573.3,413.5 572.8,423.4 572.3,433.4 571.7,443.4 571.1,453.3 570.5,463.3 569.9,473.2 569.2,483.2 568.6,493.2 567.9,503.1 567.2,513.1 566.5,523.0 565.8,533.0 674.3,533.0 674.3,35.0"/>
<polygon fill="#d60000" points="70.9,35.0 71.9,45.0 72.9,54.9 73.8,64.9 74.7,74.8 75.6,84.8 76.5,94.8 77.3,104.7 78.1,114.7 78.9,124.6 79.7,134.6 80.5,144.6 81.2,154.5 82.0,164.5 82.7,174.4 83.4,184.4 84.2,194.4 84.9,204.3 85.7,214.3 86.4,224.2 87.1,234.2 87.9,244.2 88.6,254.1 89.4,264.1 90.1,274.0 90.9,284.0 91.7,294.0 92.5,303.9 93.3,313.9 94.1,323.8 95.0,333.8 95.8,343.8 96.7,353.7 97.6,363.7 98.5,373.6 99.4,383.6 100.4,393.6 101.3,403.5 102.3,413.5 103.3,423.4 104.3,433.4 105.4,443.4 106.4,453.3 107.5,463.3 108.6,473.2 109.7,483.2 110.8,493.2 112.0,503.1 113.2,513.1 114.4,523.0 115.6,533.0 -2.8,533.0 -2.8,35.0"/>
<polygon fill="#d60000" points="593.9,35.0 593.5,45.0 593.1,54.9 592.7,64.9 592.4,74.8 592.1,84.8 591.8,94.8 591.5,104.7 591.2,114.7 590.9,124.6 590.7,134.6 590.4,144.6 590.2,154.5 590.0,164.5 589.7,174.4 589.5,184.4 589.3,194.4 589.0,204.3 588.8,214.3 588.6,224.2 588.3,234.2 588.1,244.2 587.8,254.1 587.6,264.1 587.3,274.0 587.0,284.0 586.7,294.0 586.4,303.9 586.1,313.9 585.7,323.8 585.3,333.8 585.0,343.8 584.6,353.7 584.1,363.7 583.7,373.6 583.2,383.6 582.7,393.6 582.2,403.5 581.7,413.5 581.2,423.4 580.6,433.4 580.0,443.4 579.4,453.3 578.7,463.3 578.0,473.2 577.3,483.2 576.6,493.2 575.9,503.1 575.1,513.1 574.4,523.0 573.6,533.0 674.3,533.0 674.3,35.0"/>
<polygon fill="#c00000" points="61.6,35.0 62.7,45.0 63.7,54.9 64.7,64.9 65.7,74.8 66.6,84.8 67.6,94.8 68.4,104.7 69.3,114.7 70.2,124.6 71.0,134.6 71.8,144.6 72.6,154.5 73.4,164.5 74.1,174.4 74.9,184.4 75.7,194.4 76.4,204.3 77.2,214.3 78.0,224.2 78.7,234.2 79.5,244.2 80.3,254.1 81.1,264.1 81.8,274.0 82.6,284.0 83.4,294.0 84.3,303.9 85.1,313.9 85.9,323.8 86.8,333.8 87.7,343.8 88.6,353.7 89.5,363.7 90.4,373.6 91.3,383.6 92.3,393.6 93.3,403.5 94.3,413.5 95.3,423.4 96.3,433.4 97.4,443.4 98.5,453.3 99.6,463.3 100.7,473.2 101.9,483.2 103.1,493.2 104.2,503.1 105.5,513.1 106.7,523.0 107.9,533.0 -2.8,533.0 -2.8,35.0"/>
<polygon fill="#c00000" points="602.9,35.0 602.4,45.0 602.0,54.9 601.5,64.9 601.2,74.8 600.8,84.8 600.4,94.8 600.1,104.7 599.8,114.7 599.5,124.6 599.3,134.6 599.0,144.6 598.7,154.5 598.5,164.5 598.2,174.4 598.0,184.4 597.8,194.4 597.5,204.3 597.3,214.3 597.1,224.2 596.8,234.2 596.6,244.2 596.3,254.1 596.0,264.1 595.8,274.0 595.5,284.0 595.2,294.0 594.9,303.9 594.5,313.9 594.2,323.8 593.8,333.8 593.4,343.8 593.0,353.7 592.6,363.7 592.1,373.6 591.7,383.6 591.2,393.6 590.6,403.5 590.1,413.5 589.5,423.4 588.9,433.4 588.2,443.4 587.6,453.3 586.9,463.3 586.2,473.2 585.4,483.2 584.7,493.2 583.9,503.1 583.1,513.1 582.2,523.0 581.4,533.0 674.3,533.0 674.3,35.0"/>
<polygon fill="#a80000" points="52.3,35.0 53.4,45.0 54.6,54.9 55.6,64.9 56.7,74.8 57.7,84.8 58.7,94.8 59.6,104.7 60.5,114.7 61.4,124.6 62.3,134.6 63.1,144.6 64.0,154.5 64.8,164.5 65.6,174.4 66.4,184.4 67.2,194.4 68.0,204.3 68.8,214.3 69.6,224.2 70.3,234.2 71.1,244.2 71.9,254.1 72.7,264.1 73.5,274.0 74.3,284.0 75.2,294.0 76.0,303.9 76.9,313.9 77.7,323.8 78.6,333.8 79.5,343.8 80.4,353.7 81.3,363.7 82.3,373.6 83.2,383.6 84.2,393.6 85.2,403.5 86.3,413.5 87.3,423.4 88.4,433.4 89.5,443.4 90.6,453.3 91.7,463.3 92.9,473.2 94.1,483.2 95.3,493.2 96.5,503.1 97.7,513.1 99.0,523.0 100.3,533.0 -2.8,533.0 -2.8,35.0"/>
<polygon fill="#a80000" points="611.9,35.0 611.4,45.0 610.9,54.9 610.4,64.9 609.9,74.8 609.5,84.8 609.1,94.8 608.8,104.7 608.4,114.7 608.1,124.6 607.8,134.6 607.5,144.6 607.3,154.5 607.0,164.5 606.8,174.4 606.5,184.4 606.3,194.4 606.0,204.3 605.8,214.3 605.5,224.2 605.3,234.2 605.0,244.2 604.8,254.1 604.5,264.1 604.2,274.0 604.0,284.0 603.7,294.0 603.3,303.9 603.0,313.9 602.7,323.8 602.3,333.8 601.9,343.8 601.5,353.7 601.0,363.7 600.6,373.6 600.1,383.6 599.6,393.6 599.0,403.5 598.4,413.5 597.8,423.4 597.2,433.4 596.5,443.4 595.8,453.3 595.1,463.3 594.3,473.2 593.5,483.2 592.7,493.2 591.9,503.1 591.0,513.1 590.1,523.0 589.2,533.0 674.3,533.0 674.3,35.0"/>
<polygon fill="#8e0000" points="42.9,35.0 44.2,45.0 45.4,54.9 46.6,64.9 47.7,74.8 48.7,84.8 49.8,94.8 50.7,104.7 51.7,114.7 52.6,124.6 53.6,134.6 54.5,144.6 55.3,154.5 56.2,164.5 57.0,174.4 57.9,184.4 58.7,194.4 59.5,204.3 60.3,214.3 61.1,224.2 61.9,234.2 62.8,244.2 63.6,254.1 64.4,264.1 65.2,274.0 66.1,284.0 66.9,294.0 67.8,303.9 68.6,313.9 69.5,323.8 70.4,333.8 71.3,343.8 72.2,353.7 73.2,363.7 74.1,373.6 75.1,383.6 76.1,393.6 77.2,403.5 78.2,413.5 79.3,423.4 80.4,433.4 81.5,443.4 82.7,453.3 83.8,463.3 85.0,473.2 86.2,483.2 87.5,493.2 88.7,503.1 90.0,513.1 91.3,523.0 92.7,533.0 -2.8,533.0 -2.8,35.0"/>
<polygon fill="#700000" points="33.6,35.0 35.0,45.0 36.2,54.9 37.5,64.9 38.6,74.8 39.8,84.8 40.8,94.8 41.9,104.7 42.9,114.7 43.9,124.6 44.9,134.6 45.8,144.6 46.7,154.5 47.6,164.5 48.5,174.4 49.3,184.4 50.2,194.4 51.0,204.3 51.9,214.3 52.7,224.2 53.5,234.2 54.4,244.2 55.2,254.1 56.1,264.1 56.9,274.0 57.8,284.0 58.6,294.0 59.5,303.9 60.4,313.9 61.3,323.8 62.2,333.8 63.1,343.8 64.1,353.7 65.0,363.7 66.0,373.6 67.0,383.6 68.1,393.6 69.1,403.5 70.2,413.5 71.3,423.4 72.4,433.4 73.6,443.4 74.7,453.3 75.9,463.3 77.2,473.2 78.4,483.2 79.7,493.2 81.0,503.1 82.3,513.1 83.7,523.0 85.0,533.0 -2.8,533.0 -2.8,35.0"/>
<g fill="none" stroke="#444" stroke-width="1.3" stroke-opacity="0.85">
<polyline points="329.3,35.0 328.8,45.0 328.3,54.9 327.8,64.9 327.4,74.8 327.0,84.8 326.6,94.8 326.2,104.7 325.9,114.7 325.5,124.6 325.2,134.6 325.0,144.6 324.7,154.5 324.5,164.5 324.3,174.4 324.1,184.4 323.9,194.4 323.8,204.3 323.7,214.3 323.6,224.2 323.5,234.2 323.5,244.2 323.5,254.1 323.5,264.1 323.5,274.0 323.6,284.0 323.7,294.0 323.8,303.9 323.9,313.9 324.0,323.8 324.2,333.8 324.4,343.8 324.6,353.7 324.9,363.7 325.2,373.6 325.5,383.6 325.8,393.6 326.1,403.5 326.5,413.5 326.9,423.4 327.3,433.4 327.8,443.4 328.3,453.3 328.8,463.3 329.4,473.2 329.9,483.2 330.6,493.2 331.2,503.1 331.9,513.1 332.6,523.0 333.4,533.0"/>
<polyline points="341.6,35.0 342.1,45.0 342.5,54.9 343.0,64.9 343.5,74.8 343.9,84.8 344.3,94.8 344.7,104.7 345.1,114.7 345.5,124.6 345.8,134.6 346.1,144.6 346.5,154.5 346.8,164.5 347.0,174.4 347.3,184.4 347.5,194.4 347.7,204.3 347.9,214.3 348.1,224.2 348.2,234.2 348.4,244.2 348.5,254.1 348.5,264.1 348.6,274.0 348.6,284.0 348.6,294.0 348.6,303.9 348.5,313.9 348.5,323.8 348.4,333.8 348.2,343.8 348.1,353.7 347.9,363.7 347.6,373.6 347.4,383.6 347.1,393.6 346.7,403.5 346.4,413.5 346.0,423.4 345.5,433.4 345.0,443.4 344.5,453.3 344.0,463.3 343.4,473.2 342.7,483.2 342.0,493.2 341.3,503.1 340.5,513.1 339.6,523.0 338.7,533.0"/>
<polyline points="313.9,35.0 313.5,45.0 313.2,54.9 312.8,64.9 312.5,74.8 312.2,84.8 311.9,94.8 311.7,104.7 311.4,114.7 311.2,124.6 311.0,134.6 310.9,144.6 310.7,154.5 310.6,164.5 310.5,174.4 310.5,184.4 310.4,194.4 310.4,204.3 310.4,214.3 310.4,224.2 310.4,234.2 310.5,244.2 310.5,254.1 310.6,264.1 310.8,274.0 310.9,284.0 311.1,294.0 311.2,303.9 311.5,313.9 311.7,323.8 311.9,333.8 312.2,343.8 312.5,353.7 312.8,363.7 313.1,373.6 313.5,383.6 313.8,393.6 314.2,403.5 314.7,413.5 315.1,423.4 315.6,433.4 316.1,443.4 316.6,453.3 317.1,463.3 317.7,473.2 318.3,483.2 318.9,493.2 319.6,503.1 320.3,513.1 321.0,523.0 321.7,533.0"/>
<polyline points="355.4,35.0 355.9,45.0 356.3,54.9 356.8,64.9 357.2,74.8 357.6,84.8 358.0,94.8 358.4,104.7 358.7,114.7 359.1,124.6 359.4,134.6 359.7,144.6 360.0,154.5 360.3,164.5 360.6,174.4 360.8,184.4 361.0,194.4 361.2,204.3 361.4,214.3 361.6,224.2 361.7,234.2 361.8,244.2 361.9,254.1 362.0,264.1 362.0,274.0 362.0,284.0 362.0,294.0 362.0,303.9 362.0,313.9 361.9,323.8 361.8,333.8 361.7,343.8 361.5,353.7 361.3,363.7 361.1,373.6 360.9,383.6 360.6,393.6 360.3,403.5 360.0,413.5 359.6,423.4 359.2,433.4 358.8,443.4 358.3,453.3 357.8,463.3 357.2,473.2 356.6,483.2 356.0,493.2 355.3,503.1 354.6,513.1 353.8,523.0 353.0,533.0"/>
<polyline points="298.5,35.0 298.3,45.0 298.0,54.9 297.8,64.9 297.6,74.8 297.4,84.8 297.2,94.8 297.1,104.7 297.0,114.7 296.9,124.6 296.8,134.6 296.8,144.6 296.8,154.5 296.8,164.5 296.8,174.4 296.8,184.4 296.9,194.4 296.9,204.3 297.0,214.3 297.2,224.2 297.3,234.2 297.4,244.2 297.6,254.1 297.8,264.1 298.0,274.0 298.2,284.0 298.5,294.0 298.7,303.9 299.0,313.9 299.3,323.8 299.6,333.8 300.0,343.8 300.3,353.7 300.7,363.7 301.1,373.6 301.5,383.6 301.9,393.6 302.4,403.5 302.8,413.5 303.3,423.4 303.8,433.4 304.3,443.4 304.9,453.3 305.5,463.3 306.0,473.2 306.7,483.2 307.3,493.2 308.0,503.1 308.7,513.1 309.4,523.0 310.1,533.0"/>
<polyline points="369.2,35.0 369.7,45.0 370.1,54.9 370.5,64.9 370.9,74.8 371.3,84.8 371.7,94.8 372.0,104.7 372.4,114.7 372.7,124.6 373.0,134.6 373.3,144.6 373.6,154.5 373.9,164.5 374.1,174.4 374.3,184.4 374.5,194.4 374.7,204.3 374.9,214.3 375.0,224.2 375.1,234.2 375.2,244.2 375.3,254.1 375.4,264.1 375.4,274.0 375.4,284.0 375.4,294.0 375.4,303.9 375.4,313.9 375.3,323.8 375.2,333.8 375.1,343.8 375.0,353.7 374.8,363.7 374.6,373.6 374.4,383.6 374.1,393.6 373.9,403.5 373.6,413.5 373.2,423.4 372.9,433.4 372.5,443.4 372.0,453.3 371.6,463.3 371.1,473.2 370.5,483.2 370.0,493.2 369.4,503.1 368.7,513.1 368.0,523.0 367.3,533.0"/>
<polyline points="283.2,35.0 283.0,45.0 282.9,54.9 282.8,64.9 282.7,74.8 282.6,84.8 282.6,94.8 282.6,104.7 282.6,114.7 282.6,124.6 282.6,134.6 282.7,144.6 282.8,154.5 282.9,164.5 283.0,174.4 283.2,184.4 283.3,194.4 283.5,204.3 283.7,214.3 283.9,224.2 284.2,234.2 284.4,244.2 284.7,254.1 284.9,264.1 285.2,274.0 285.6,284.0 285.9,294.0 286.2,303.9 286.6,313.9 286.9,323.8 287.3,333.8 287.7,343.8 288.2,353.7 288.6,363.7 289.0,373.6 289.5,383.6 290.0,393.6 290.5,403.5 291.0,413.5 291.5,423.4 292.0,433.4 292.6,443.4 293.2,453.3 293.8,463.3 294.4,473.2 295.0,483.2 295.7,493.2 296.3,503.1 297.0,513.1 297.8,523.0 298.5,533.0"/>
<polyline points="383.0,35.0 383.5,45.0 383.9,54.9 384.3,64.9 384.7,74.8 385.0,84.8 385.4,94.8 385.7,104.7 386.0,114.7 386.3,124.6 386.6,134.6 386.9,144.6 387.2,154.5 387.4,164.5 387.6,174.4 387.8,184.4 388.0,194.4 388.2,204.3 388.3,214.3 388.5,224.2 388.6,234.2 388.7,244.2 388.7,254.1 388.8,264.1 388.8,274.0 388.9,284.0 388.9,294.0 388.8,303.9 388.8,313.9 388.7,323.8 388.6,333.8 388.5,343.8 388.4,353.7 388.3,363.7 388.1,373.6 387.9,383.6 387.7,393.6 387.4,403.5 387.1,413.5 386.8,423.4 386.5,433.4 386.2,443.4 385.8,453.3 385.4,463.3 384.9,473.2 384.5,483.2 384.0,493.2 383.4,503.1 382.9,513.1 382.2,523.0 381.6,533.0"/>
<polyline points="268.5,35.0 268.5,45.0 268.5,54.9 268.5,64.9 268.5,74.8 268.5,84.8 268.6,94.8 268.6,104.7 268.7,114.7 268.8,124.6 268.9,134.6 269.1,144.6 269.2,154.5 269.4,164.5 269.6,174.4 269.8,184.4 270.0,194.4 270.2,204.3 270.5,214.3 270.8,224.2 271.0,234.2 271.4,244.2 271.7,254.1 272.1,264.1 272.5,274.0 272.9,284.0 273.3,294.0 273.7,303.9 274.1,313.9 274.6,323.8 275.0,333.8 275.5,343.8 276.0,353.7 276.5,363.7 277.0,373.6 277.5,383.6 278.0,393.6 278.6,403.5 279.1,413.5 279.7,423.4 280.3,433.4 280.9,443.4 281.5,453.3 282.1,463.3 282.7,473.2 283.4,483.2 284.0,493.2 284.7,503.1 285.4,513.1 286.2,523.0 286.9,533.0"/>
<polyline points="396.9,35.0 397.3,45.0 397.7,54.9 398.0,64.9 398.4,74.8 398.7,84.8 399.1,94.8 399.4,104.7 399.7,114.7 400.0,124.6 400.2,134.6 400.5,144.6 400.7,154.5 400.9,164.5 401.0,174.4 401.2,184.4 401.3,194.4 401.5,204.3 401.6,214.3 401.7,224.2 401.8,234.2 401.8,244.2 401.9,254.1 401.9,264.1 402.0,274.0 402.0,284.0 402.0,294.0 401.9,303.9 401.9,313.9 401.8,323.8 401.8,333.8 401.7,343.8 401.6,353.7 401.5,363.7 401.4,373.6 401.2,383.6 401.0,393.6 400.9,403.5 400.7,413.5 400.5,423.4 400.2,433.4 399.9,443.4 399.5,453.3 399.2,463.3 398.8,473.2 398.4,483.2 398.0,493.2 397.5,503.1 397.0,513.1 396.5,523.0 395.9,533.0"/>
<polyline points="256.5,35.0 256.5,45.0 256.5,54.9 256.6,64.9 256.6,74.8 256.7,84.8 256.8,94.8 256.9,104.7 257.1,114.7 257.2,124.6 257.4,134.6 257.6,144.6 257.8,154.5 258.0,164.5 258.2,174.4 258.5,184.4 258.8,194.4 259.0,204.3 259.3,214.3 259.6,224.2 260.0,234.2 260.3,244.2 260.6,254.1 261.0,264.1 261.4,274.0 261.8,284.0 262.2,294.0 262.6,303.9 263.0,313.9 263.4,323.8 263.9,333.8 264.3,343.8 264.8,353.7 265.3,363.7 265.7,373.6 266.2,383.6 266.7,393.6 267.3,403.5 267.8,413.5 268.3,423.4 268.8,433.4 269.4,443.4 269.9,453.3 270.5,463.3 271.1,473.2 271.7,483.2 272.4,493.2 273.1,503.1 273.8,513.1 274.5,523.0 275.3,533.0"/>
<polyline points="409.3,35.0 409.6,45.0 409.9,54.9 410.2,64.9 410.5,74.8 410.8,84.8 411.0,94.8 411.3,104.7 411.5,114.7 411.7,124.6 411.9,134.6 412.1,144.6 412.3,154.5 412.5,164.5 412.6,174.4 412.7,184.4 412.8,194.4 412.9,204.3 413.0,214.3 413.1,224.2 413.2,234.2 413.2,244.2 413.2,254.1 413.2,264.1 413.2,274.0 413.2,284.0 413.2,294.0 413.1,303.9 413.0,313.9 413.0,323.8 412.9,333.8 412.8,343.8 412.6,353.7 412.5,363.7 412.3,373.6 412.2,383.6 412.0,393.6 411.8,403.5 411.6,413.5 411.3,423.4 411.1,433.4 410.8,443.4 410.5,453.3 410.2,463.3 409.9,473.2 409.6,483.2 409.2,493.2 408.9,503.1 408.5,513.1 408.1,523.0 407.7,533.0"/>
<polyline points="244.4,35.0 244.5,45.0 244.6,54.9 244.7,64.9 244.8,74.8 244.9,84.8 245.1,94.8 245.3,104.7 245.4,114.7 245.7,124.6 245.9,134.6 246.1,144.6 246.4,154.5 246.6,164.5 246.9,174.4 247.2,184.4 247.5,194.4 247.8,204.3 248.2,214.3 248.5,224.2 248.9,234.2 249.3,244.2 249.7,254.1 250.1,264.1 250.5,274.0 250.9,284.0 251.3,294.0 251.8,303.9 252.3,313.9 252.7,323.8 253.2,333.8 253.7,343.8 254.2,353.7 254.7,363.7 255.2,373.6 255.8,383.6 256.3,393.6 256.9,403.5 257.4,413.5 258.0,423.4 258.6,433.4 259.2,443.4 259.8,453.3 260.4,463.3 261.0,473.2 261.6,483.2 262.2,493.2 262.9,503.1 263.5,513.1 264.1,523.0 264.8,533.0"/>
<polyline points="421.2,35.0 421.5,45.0 421.8,54.9 422.1,64.9 422.4,74.8 422.6,84.8 422.8,94.8 423.1,104.7 423.3,114.7 423.4,124.6 423.6,134.6 423.8,144.6 423.9,154.5 424.0,164.5 424.2,174.4 424.3,184.4 424.3,194.4 424.4,204.3 424.5,214.3 424.5,224.2 424.5,234.2 424.5,244.2 424.5,254.1 424.5,264.1 424.5,274.0 424.4,284.0 424.4,294.0 424.3,303.9 424.2,313.9 424.1,323.8 424.0,333.8 423.8,343.8 423.7,353.7 423.5,363.7 423.3,373.6 423.1,383.6 422.9,393.6 422.7,403.5 422.4,413.5 422.2,423.4 421.9,433.4 421.6,443.4 421.3,453.3 421.0,463.3 420.6,473.2 420.3,483.2 419.9,493.2 419.5,503.1 419.1,513.1 418.7,523.0 418.3,533.0"/>
<polyline points="232.4,35.0 232.5,45.0 232.6,54.9 232.8,64.9 233.0,74.8 233.2,84.8 233.4,94.8 233.6,104.7 233.8,114.7 234.1,124.6 234.3,134.6 234.6,144.6 234.9,154.5 235.2,164.5 235.6,174.4 235.9,184.4 236.3,194.4 236.6,204.3 237.0,214.3 237.4,224.2 237.8,234.2 238.2,244.2 238.7,254.1 239.1,264.1 239.6,274.0 240.0,284.0 240.5,294.0 241.0,303.9 241.5,313.9 242.0,323.8 242.6,333.8 243.1,343.8 243.6,353.7 244.2,363.7 244.8,373.6 245.3,383.6 245.9,393.6 246.5,403.5 247.1,413.5 247.7,423.4 248.3,433.4 249.0,443.4 249.6,453.3 250.2,463.3 250.9,473.2 251.5,483.2 252.2,493.2 252.9,503.1 253.5,513.1 254.2,523.0 254.9,533.0"/>
<polyline points="433.2,35.0 433.5,45.0 433.7,54.9 434.0,64.9 434.2,74.8 434.4,84.8 434.6,94.8 434.8,104.7 435.0,114.7 435.2,124.6 435.3,134.6 435.4,144.6 435.5,154.5 435.6,164.5 435.7,174.4 435.8,184.4 435.8,194.4 435.9,204.3 435.9,214.3 435.9,224.2 435.9,234.2 435.9,244.2 435.9,254.1 435.8,264.1 435.7,274.0 435.7,284.0 435.6,294.0 435.5,303.9 435.3,313.9 435.2,323.8 435.1,333.8 434.9,343.8 434.7,353.7 434.5,363.7 434.3,373.6 434.1,383.6 433.8,393.6 433.6,403.5 433.3,413.5 433.0,423.4 432.7,433.4 432.4,443.4 432.1,453.3 431.7,463.3 431.4,473.2 431.0,483.2 430.6,493.2 430.2,503.1 429.8,513.1 429.4,523.0 428.9,533.0"/>
<polyline points="220.3,35.0 220.5,45.0 220.7,54.9 220.9,64.9 221.1,74.8 221.4,84.8 221.6,94.8 221.9,104.7 222.2,114.7 222.5,124.6 222.8,134.6 223.1,144.6 223.5,154.5 223.8,164.5 224.2,174.4 224.6,184.4 225.0,194.4 225.4,204.3 225.8,214.3 226.3,224.2 226.7,234.2 227.2,244.2 227.7,254.1 228.2,264.1 228.7,274.0 229.2,284.0 229.7,294.0 230.2,303.9 230.8,313.9 231.3,323.8 231.9,333.8 232.5,343.8 233.1,353.7 233.7,363.7 234.3,373.6 234.9,383.6 235.5,393.6 236.1,403.5 236.8,413.5 237.4,423.4 238.1,433.4 238.7,443.4 239.4,453.3 240.1,463.3 240.8,473.2 241.5,483.2 242.2,493.2 242.9,503.1 243.6,513.1 244.3,523.0 245.1,533.0"/>
<polyline points="445.1,35.0 445.4,45.0 445.6,54.9 445.8,64.9 446.1,74.8 446.2,84.8 446.4,94.8 446.6,104.7 446.7,114.7 446.9,124.6 447.0,134.6 447.1,144.6 447.2,154.5 447.2,164.5 447.3,174.4 447.3,184.4 447.3,194.4 447.4,204.3 447.4,214.3 447.3,224.2 447.3,234.2 447.2,244.2 447.2,254.1 447.1,264.1 447.0,274.0 446.9,284.0 446.8,294.0 446.6,303.9 446.5,313.9 446.3,323.8 446.1,333.8 446.0,343.8 445.7,353.7 445.5,363.7 445.3,373.6 445.0,383.6 444.8,393.6 444.5,403.5 444.2,413.5 443.9,423.4 443.6,433.4 443.2,443.4 442.9,453.3 442.5,463.3 442.1,473.2 441.7,483.2 441.3,493.2 440.9,503.1 440.5,513.1 440.0,523.0 439.6,533.0"/>
<polyline points="208.3,35.0 208.5,45.0 208.8,54.9 209.0,64.9 209.3,74.8 209.6,84.8 209.9,94.8 210.2,104.7 210.6,114.7 210.9,124.6 211.3,134.6 211.7,144.6 212.0,154.5 212.5,164.5 212.9,174.4 213.3,184.4 213.8,194.4 214.2,204.3 214.7,214.3 215.2,224.2 215.7,234.2 216.2,244.2 216.7,254.1 217.2,264.1 217.8,274.0 218.3,284.0 218.9,294.0 219.5,303.9 220.0,313.9 220.6,323.8 221.2,333.8 221.9,343.8 222.5,353.7 223.1,363.7 223.8,373.6 224.4,383.6 225.1,393.6 225.8,403.5 226.4,413.5 227.1,423.4 227.8,433.4 228.5,443.4 229.2,453.3 230.0,463.3 230.7,473.2 231.4,483.2 232.2,493.2 232.9,503.1 233.7,513.1 234.4,523.0 235.2,533.0"/>
<polyline points="457.1,35.0 457.3,45.0 457.5,54.9 457.7,64.9 457.9,74.8 458.1,84.8 458.2,94.8 458.3,104.7 458.5,114.7 458.6,124.6 458.7,134.6 458.7,144.6 458.8,154.5 458.8,164.5 458.8,174.4 458.9,184.4 458.8,194.4 458.8,204.3 458.8,214.3 458.7,224.2 458.7,234.2 458.6,244.2 458.5,254.1 458.4,264.1 458.3,274.0 458.1,284.0 458.0,294.0 457.8,303.9 457.6,313.9 457.4,323.8 457.2,333.8 457.0,343.8 456.8,353.7 456.5,363.7 456.3,373.6 456.0,383.6 455.7,393.6 455.4,403.5 455.1,413.5 454.7,423.4 454.4,433.4 454.0,443.4 453.7,453.3 453.3,463.3 452.9,473.2 452.5,483.2 452.0,493.2 451.6,503.1 451.1,513.1 450.7,523.0 450.2,533.0"/>
<polyline points="197.7,35.0 197.9,45.0 198.2,54.9 198.4,64.9 198.7,74.8 199.0,84.8 199.3,94.8 199.6,104.7 199.9,114.7 200.3,124.6 200.6,134.6 201.0,144.6 201.4,154.5 201.8,164.5 202.2,174.4 202.6,184.4 203.0,194.4 203.4,204.3 203.9,214.3 204.4,224.2 204.8,234.2 205.3,244.2 205.8,254.1 206.3,264.1 206.9,274.0 207.5,284.0 208.1,294.0 208.7,303.9 209.3,313.9 209.9,323.8 210.6,333.8 211.2,343.8 211.9,353.7 212.6,363.7 213.3,373.6 214.0,383.6 214.7,393.6 215.4,403.5 216.1,413.5 216.8,423.4 217.6,433.4 218.3,443.4 219.1,453.3 219.8,463.3 220.6,473.2 221.4,483.2 222.1,493.2 222.9,503.1 223.7,513.1 224.5,523.0 225.3,533.0"/>
<polyline points="468.5,35.0 468.7,45.0 468.9,54.9 469.0,64.9 469.1,74.8 469.3,84.8 469.4,94.8 469.5,104.7 469.5,114.7 469.6,124.6 469.7,134.6 469.7,144.6 469.7,154.5 469.7,164.5 469.7,174.4 469.7,184.4 469.7,194.4 469.6,204.3 469.6,214.3 469.5,224.2 469.4,234.2 469.3,244.2 469.2,254.1 469.1,264.1 468.9,274.0 468.8,284.0 468.6,294.0 468.5,303.9 468.3,313.9 468.1,323.8 467.9,333.8 467.7,343.8 467.4,353.7 467.2,363.7 467.0,373.6 466.7,383.6 466.4,393.6 466.1,403.5 465.8,413.5 465.5,423.4 465.2,433.4 464.8,443.4 464.5,453.3 464.0,463.3 463.6,473.2 463.2,483.2 462.7,493.2 462.3,503.1 461.8,513.1 461.3,523.0 460.8,533.0"/>
<polyline points="187.3,35.0 187.6,45.0 187.9,54.9 188.2,64.9 188.5,74.8 188.8,84.8 189.1,94.8 189.5,104.7 189.8,114.7 190.2,124.6 190.6,134.6 191.0,144.6 191.4,154.5 191.8,164.5 192.3,174.4 192.7,184.4 193.2,194.4 193.6,204.3 194.1,214.3 194.6,224.2 195.1,234.2 195.6,244.2 196.1,254.1 196.7,264.1 197.2,274.0 197.8,284.0 198.4,294.0 198.9,303.9 199.5,313.9 200.1,323.8 200.7,333.8 201.3,343.8 202.0,353.7 202.6,363.7 203.2,373.6 203.9,383.6 204.5,393.6 205.2,403.5 205.9,413.5 206.5,423.4 207.3,433.4 208.1,443.4 208.9,453.3 209.7,463.3 210.5,473.2 211.3,483.2 212.1,493.2 212.9,503.1 213.8,513.1 214.6,523.0 215.5,533.0"/>
<polyline points="478.9,35.0 479.1,45.0 479.2,54.9 479.3,64.9 479.5,74.8 479.6,84.8 479.7,94.8 479.7,104.7 479.8,114.7 479.8,124.6 479.9,134.6 479.9,144.6 479.9,154.5 479.8,164.5 479.8,174.4 479.8,184.4 479.7,194.4 479.6,204.3 479.5,214.3 479.4,224.2 479.3,234.2 479.2,244.2 479.1,254.1 478.9,264.1 478.7,274.0 478.6,284.0 478.4,294.0 478.2,303.9 478.0,313.9 477.7,323.8 477.5,333.8 477.3,343.8 477.0,353.7 476.7,363.7 476.5,373.6 476.2,383.6 475.9,393.6 475.6,403.5 475.3,413.5 474.9,423.4 474.6,433.4 474.2,443.4 473.9,453.3 473.5,463.3 473.1,473.2 472.7,483.2 472.3,493.2 471.9,503.1 471.5,513.1 471.1,523.0 470.6,533.0"/>
<polyline points="177.0,35.0 177.3,45.0 177.6,54.9 177.9,64.9 178.3,74.8 178.6,84.8 179.0,94.8 179.4,104.7 179.7,114.7 180.1,124.6 180.6,134.6 181.0,144.6 181.4,154.5 181.9,164.5 182.4,174.4 182.8,184.4 183.3,194.4 183.8,204.3 184.3,214.3 184.9,224.2 185.4,234.2 185.9,244.2 186.5,254.1 187.1,264.1 187.6,274.0 188.2,284.0 188.8,294.0 189.5,303.9 190.1,313.9 190.7,323.8 191.4,333.8 192.0,343.8 192.7,353.7 193.3,363.7 194.0,373.6 194.7,383.6 195.4,393.6 196.1,403.5 196.8,413.5 197.5,423.4 198.2,433.4 199.0,443.4 199.7,453.3 200.4,463.3 201.2,473.2 201.9,483.2 202.7,493.2 203.4,503.1 204.2,513.1 205.0,523.0 205.7,533.0"/>
<polyline points="489.3,35.0 489.4,45.0 489.6,54.9 489.7,64.9 489.8,74.8 489.9,84.8 490.0,94.8 490.0,104.7 490.0,114.7 490.1,124.6 490.1,134.6 490.0,144.6 490.0,154.5 490.0,164.5 489.9,174.4 489.8,184.4 489.7,194.4 489.6,204.3 489.5,214.3 489.4,224.2 489.2,234.2 489.1,244.2 488.9,254.1 488.7,264.1 488.5,274.0 488.3,284.0 488.1,294.0 487.9,303.9 487.6,313.9 487.4,323.8 487.1,333.8 486.9,343.8 486.6,353.7 486.3,363.7 486.0,373.6 485.7,383.6 485.3,393.6 485.0,403.5 484.7,413.5 484.3,423.4 484.0,433.4 483.6,443.4 483.2,453.3 482.8,463.3 482.4,473.2 482.0,483.2 481.6,493.2 481.2,503.1 480.8,513.1 480.3,523.0 479.9,533.0"/>
<polyline points="166.6,35.0 166.9,45.0 167.3,54.9 167.7,64.9 168.0,74.8 168.4,84.8 168.8,94.8 169.2,104.7 169.7,114.7 170.1,124.6 170.5,134.6 171.0,144.6 171.5,154.5 172.0,164.5 172.4,174.4 173.0,184.4 173.5,194.4 174.0,204.3 174.6,214.3 175.1,224.2 175.7,234.2 176.3,244.2 176.8,254.1 177.4,264.1 178.1,274.0 178.7,284.0 179.3,294.0 180.0,303.9 180.6,313.9 181.3,323.8 182.0,333.8 182.7,343.8 183.4,353.7 184.1,363.7 184.8,373.6 185.5,383.6 186.3,393.6 187.0,403.5 187.8,413.5 188.5,423.4 189.3,433.4 190.1,443.4 190.8,453.3 191.6,463.3 192.4,473.2 193.2,483.2 194.0,493.2 194.8,503.1 195.6,513.1 196.4,523.0 197.3,533.0"/>
<polyline points="499.7,35.0 499.8,45.0 499.9,54.9 500.0,64.9 500.1,74.8 500.2,84.8 500.2,94.8 500.3,104.7 500.3,114.7 500.3,124.6 500.3,134.6 500.2,144.6 500.2,154.5 500.1,164.5 500.0,174.4 499.9,184.4 499.8,194.4 499.6,204.3 499.5,214.3 499.3,224.2 499.2,234.2 499.0,244.2 498.8,254.1 498.5,264.1 498.3,274.0 498.1,284.0 497.8,294.0 497.6,303.9 497.3,313.9 497.0,323.8 496.7,333.8 496.4,343.8 496.1,353.7 495.8,363.7 495.5,373.6 495.2,383.6 494.8,393.6 494.5,403.5 494.1,413.5 493.7,423.4 493.4,433.4 493.0,443.4 492.6,453.3 492.2,463.3 491.8,473.2 491.4,483.2 490.9,493.2 490.5,503.1 490.1,513.1 489.6,523.0 489.2,533.0"/>
<polyline points="156.2,35.0 156.6,45.0 157.0,54.9 157.4,64.9 157.8,74.8 158.2,84.8 158.7,94.8 159.1,104.7 159.6,114.7 160.0,124.6 160.5,134.6 161.0,144.6 161.5,154.5 162.0,164.5 162.5,174.4 163.1,184.4 163.6,194.4 164.2,204.3 164.8,214.3 165.4,224.2 166.0,234.2 166.6,244.2 167.2,254.1 167.8,264.1 168.5,274.0 169.1,284.0 169.8,294.0 170.5,303.9 171.2,313.9 171.9,323.8 172.6,333.8 173.3,343.8 174.1,353.7 174.8,363.7 175.6,373.6 176.4,383.6 177.1,393.6 177.9,403.5 178.7,413.5 179.5,423.4 180.3,433.4 181.1,443.4 182.0,453.3 182.8,463.3 183.7,473.2 184.5,483.2 185.4,493.2 186.2,503.1 187.1,513.1 187.9,523.0 188.8,533.0"/>
<polyline points="510.0,35.0 510.2,45.0 510.3,54.9 510.4,64.9 510.5,74.8 510.5,84.8 510.5,94.8 510.5,104.7 510.5,114.7 510.5,124.6 510.5,134.6 510.4,144.6 510.3,154.5 510.2,164.5 510.1,174.4 510.0,184.4 509.8,194.4 509.6,204.3 509.5,214.3 509.3,224.2 509.1,234.2 508.8,244.2 508.6,254.1 508.4,264.1 508.1,274.0 507.8,284.0 507.6,294.0 507.3,303.9 507.0,313.9 506.7,323.8 506.4,333.8 506.0,343.8 505.7,353.7 505.3,363.7 505.0,373.6 504.6,383.6 504.3,393.6 503.9,403.5 503.5,413.5 503.1,423.4 502.7,433.4 502.3,443.4 501.9,453.3 501.5,463.3 501.1,473.2 500.7,483.2 500.2,493.2 499.8,503.1 499.4,513.1 498.9,523.0 498.4,533.0"/>
<polyline points="145.9,35.0 146.3,45.0 146.7,54.9 147.2,64.9 147.6,74.8 148.0,84.8 148.5,94.8 149.0,104.7 149.5,114.7 150.0,124.6 150.5,134.6 151.0,144.6 151.5,154.5 152.1,164.5 152.6,174.4 153.2,184.4 153.8,194.4 154.4,204.3 155.0,214.3 155.6,224.2 156.2,234.2 156.9,244.2 157.5,254.1 158.2,264.1 158.9,274.0 159.6,284.0 160.3,294.0 161.0,303.9 161.7,313.9 162.5,323.8 163.2,333.8 164.0,343.8 164.8,353.7 165.6,363.7 166.4,373.6 167.2,383.6 168.0,393.6 168.8,403.5 169.7,413.5 170.5,423.4 171.4,433.4 172.2,443.4 173.1,453.3 174.0,463.3 174.9,473.2 175.8,483.2 176.7,493.2 177.6,503.1 178.5,513.1 179.4,523.0 180.4,533.0"/>
<polyline points="520.4,35.0 520.5,45.0 520.6,54.9 520.7,64.9 520.8,74.8 520.8,84.8 520.8,94.8 520.8,104.7 520.8,114.7 520.7,124.6 520.7,134.6 520.6,144.6 520.5,154.5 520.3,164.5 520.2,174.4 520.0,184.4 519.8,194.4 519.6,204.3 519.4,214.3 519.2,224.2 519.0,234.2 518.7,244.2 518.5,254.1 518.2,264.1 517.9,274.0 517.6,284.0 517.3,294.0 517.0,303.9 516.7,313.9 516.3,323.8 516.0,333.8 515.6,343.8 515.3,353.7 514.9,363.7 514.5,373.6 514.1,383.6 513.7,393.6 513.3,403.5 512.9,413.5 512.5,423.4 512.1,433.4 511.7,443.4 511.3,453.3 510.8,463.3 510.4,473.2 510.0,483.2 509.5,493.2 509.1,503.1 508.6,513.1 508.2,523.0 507.7,533.0"/>
<polyline points="136.2,35.0 136.6,45.0 137.0,54.9 137.5,64.9 137.9,74.8 138.3,84.8 138.8,94.8 139.2,104.7 139.7,114.7 140.2,124.6 140.6,134.6 141.1,144.6 141.6,154.5 142.1,164.5 142.7,174.4 143.3,184.4 143.9,194.4 144.6,204.3 145.2,214.3 145.9,224.2 146.5,234.2 147.2,244.2 147.9,254.1 148.6,264.1 149.3,274.0 150.0,284.0 150.8,294.0 151.5,303.9 152.3,313.9 153.1,323.8 153.9,333.8 154.7,343.8 155.5,353.7 156.3,363.7 157.1,373.6 158.0,383.6 158.9,393.6 159.7,403.5 160.6,413.5 161.5,423.4 162.4,433.4 163.3,443.4 164.2,453.3 165.2,463.3 166.1,473.2 167.1,483.2 168.0,493.2 169.0,503.1 169.9,513.1 170.9,523.0 171.9,533.0"/>
<polyline points="530.6,35.0 530.7,45.0 530.8,54.9 530.9,64.9 530.9,74.8 530.9,84.8 530.9,94.8 530.9,104.7 530.8,114.7 530.7,124.6 530.7,134.6 530.6,144.6 530.5,154.5 530.3,164.5 530.2,174.4 530.0,184.4 529.8,194.4 529.7,204.3 529.4,214.3 529.2,224.2 528.9,234.2 528.6,244.2 528.3,254.1 528.0,264.1 527.7,274.0 527.4,284.0 527.0,294.0 526.7,303.9 526.3,313.9 526.0,323.8 525.6,333.8 525.2,343.8 524.8,353.7 524.4,363.7 524.0,373.6 523.6,383.6 523.2,393.6 522.8,403.5 522.4,413.5 521.9,423.4 521.5,433.4 521.1,443.4 520.6,453.3 520.2,463.3 519.7,473.2 519.3,483.2 518.8,493.2 518.4,503.1 517.9,513.1 517.5,523.0 517.0,533.0"/>
<polyline points="126.8,35.0 127.4,45.0 127.9,54.9 128.4,64.9 128.9,74.8 129.4,84.8 129.9,94.8 130.4,104.7 130.9,114.7 131.4,124.6 131.9,134.6 132.5,144.6 133.0,154.5 133.5,164.5 134.1,174.4 134.6,184.4 135.2,194.4 135.7,204.3 136.3,214.3 136.9,224.2 137.5,234.2 138.1,244.2 138.7,254.1 139.4,264.1 140.0,274.0 140.7,284.0 141.3,294.0 142.0,303.9 142.8,313.9 143.7,323.8 144.5,333.8 145.3,343.8 146.2,353.7 147.1,363.7 147.9,373.6 148.8,383.6 149.7,393.6 150.6,403.5 151.6,413.5 152.5,423.4 153.5,433.4 154.4,443.4 155.4,453.3 156.4,463.3 157.3,473.2 158.3,483.2 159.3,493.2 160.4,503.1 161.4,513.1 162.4,523.0 163.4,533.0"/>
<polyline points="539.7,35.0 539.7,45.0 539.7,54.9 539.7,64.9 539.7,74.8 539.6,84.8 539.6,94.8 539.5,104.7 539.4,114.7 539.3,124.6 539.2,134.6 539.1,144.6 539.0,154.5 538.8,164.5 538.7,174.4 538.5,184.4 538.3,194.4 538.1,204.3 537.9,214.3 537.7,224.2 537.5,234.2 537.2,244.2 537.0,254.1 536.7,264.1 536.4,274.0 536.1,284.0 535.8,294.0 535.5,303.9 535.2,313.9 534.9,323.8 534.5,333.8 534.2,343.8 533.8,353.7 533.5,363.7 533.1,373.6 532.7,383.6 532.3,393.6 531.9,403.5 531.5,413.5 531.1,423.4 530.7,433.4 530.3,443.4 529.9,453.3 529.5,463.3 529.1,473.2 528.6,483.2 528.1,493.2 527.7,503.1 527.2,513.1 526.7,523.0 526.3,533.0"/>
<polyline points="117.5,35.0 118.1,45.0 118.7,54.9 119.3,64.9 119.9,74.8 120.4,84.8 121.0,94.8 121.5,104.7 122.1,114.7 122.7,124.6 123.2,134.6 123.8,144.6 124.4,154.5 124.9,164.5 125.5,174.4 126.1,184.4 126.7,194.4 127.3,204.3 127.9,214.3 128.5,224.2 129.1,234.2 129.7,244.2 130.4,254.1 131.0,264.1 131.7,274.0 132.4,284.0 133.1,294.0 133.8,303.9 134.5,313.9 135.2,323.8 136.0,333.8 136.7,343.8 137.5,353.7 138.3,363.7 139.1,373.6 139.9,383.6 140.7,393.6 141.6,403.5 142.5,413.5 143.5,423.4 144.5,433.4 145.5,443.4 146.5,453.3 147.5,463.3 148.6,473.2 149.6,483.2 150.7,493.2 151.7,503.1 152.8,513.1 153.9,523.0 155.0,533.0"/>
<polyline points="548.7,35.0 548.7,45.0 548.6,54.9 548.5,64.9 548.5,74.8 548.4,84.8 548.3,94.8 548.2,104.7 548.1,114.7 547.9,124.6 547.8,134.6 547.7,144.6 547.5,154.5 547.4,164.5 547.2,174.4 547.0,184.4 546.8,194.4 546.6,204.3 546.4,214.3 546.2,224.2 546.0,234.2 545.7,244.2 545.5,254.1 545.2,264.1 544.9,274.0 544.6,284.0 544.3,294.0 544.0,303.9 543.7,313.9 543.4,323.8 543.0,333.8 542.7,343.8 542.3,353.7 541.9,363.7 541.5,373.6 541.1,383.6 540.7,393.6 540.3,403.5 539.9,413.5 539.5,423.4 539.0,433.4 538.6,443.4 538.2,453.3 537.7,463.3 537.3,473.2 536.8,483.2 536.4,493.2 535.9,503.1 535.5,513.1 535.1,523.0 534.6,533.0"/>
<polyline points="108.2,35.0 108.9,45.0 109.5,54.9 110.2,64.9 110.8,74.8 111.5,84.8 112.1,94.8 112.7,104.7 113.3,114.7 113.9,124.6 114.5,134.6 115.1,144.6 115.7,154.5 116.3,164.5 116.9,174.4 117.6,184.4 118.2,194.4 118.8,204.3 119.4,214.3 120.1,224.2 120.7,234.2 121.4,244.2 122.0,254.1 122.7,264.1 123.4,274.0 124.1,284.0 124.8,294.0 125.5,303.9 126.3,313.9 127.0,323.8 127.8,333.8 128.5,343.8 129.3,353.7 130.1,363.7 131.0,373.6 131.8,383.6 132.7,393.6 133.5,403.5 134.4,413.5 135.3,423.4 136.2,433.4 137.2,443.4 138.1,453.3 139.1,463.3 140.0,473.2 141.0,483.2 142.0,493.2 143.1,503.1 144.3,513.1 145.4,523.0 146.5,533.0"/>
<polyline points="557.7,35.0 557.6,45.0 557.5,54.9 557.4,64.9 557.2,74.8 557.1,84.8 557.0,94.8 556.8,104.7 556.7,114.7 556.5,124.6 556.4,134.6 556.2,144.6 556.1,154.5 555.9,164.5 555.7,174.4 555.5,184.4 555.3,194.4 555.1,204.3 554.9,214.3 554.7,224.2 554.4,234.2 554.2,244.2 553.9,254.1 553.7,264.1 553.4,274.0 553.1,284.0 552.8,294.0 552.5,303.9 552.2,313.9 551.8,323.8 551.5,333.8 551.1,343.8 550.7,353.7 550.4,363.7 550.0,373.6 549.6,383.6 549.1,393.6 548.7,403.5 548.3,413.5 547.8,423.4 547.4,433.4 546.9,443.4 546.4,453.3 545.9,463.3 545.4,473.2 544.9,483.2 544.4,493.2 543.9,503.1 543.4,513.1 542.9,523.0 542.4,533.0"/>
<polyline points="98.9,35.0 99.6,45.0 100.4,54.9 101.1,64.9 101.8,74.8 102.5,84.8 103.2,94.8 103.8,104.7 104.5,114.7 105.2,124.6 105.8,134.6 106.5,144.6 107.1,154.5 107.7,164.5 108.4,174.4 109.0,184.4 109.7,194.4 110.3,204.3 111.0,214.3 111.6,224.2 112.3,234.2 113.0,244.2 113.7,254.1 114.4,264.1 115.1,274.0 115.8,284.0 116.5,294.0 117.3,303.9 118.0,313.9 118.8,323.8 119.6,333.8 120.4,343.8 121.2,353.7 122.0,363.7 122.9,373.6 123.7,383.6 124.6,393.6 125.5,403.5 126.4,413.5 127.3,423.4 128.3,433.4 129.2,443.4 130.2,453.3 131.2,463.3 132.2,473.2 133.2,483.2 134.2,493.2 135.2,503.1 136.3,513.1 137.4,523.0 138.4,533.0"/>
<polyline points="566.8,35.0 566.6,45.0 566.4,54.9 566.2,64.9 566.0,74.8 565.8,84.8 565.7,94.8 565.5,104.7 565.3,114.7 565.1,124.6 565.0,134.6 564.8,144.6 564.6,154.5 564.4,164.5 564.2,174.4 564.0,184.4 563.8,194.4 563.6,204.3 563.4,214.3 563.1,224.2 562.9,234.2 562.7,244.2 562.4,254.1 562.1,264.1 561.9,274.0 561.6,284.0 561.3,294.0 561.0,303.9 560.6,313.9 560.3,323.8 559.9,333.8 559.6,343.8 559.2,353.7 558.8,363.7 558.4,373.6 558.0,383.6 557.5,393.6 557.1,403.5 556.6,413.5 556.1,423.4 555.7,433.4 555.2,443.4 554.6,453.3 554.1,463.3 553.6,473.2 553.0,483.2 552.5,493.2 551.9,503.1 551.4,513.1 550.8,523.0 550.2,533.0"/>
<polyline points="89.5,35.0 90.4,45.0 91.2,54.9 92.0,64.9 92.8,74.8 93.5,84.8 94.3,94.8 95.0,104.7 95.7,114.7 96.4,124.6 97.1,134.6 97.8,144.6 98.5,154.5 99.1,164.5 99.8,174.4 100.5,184.4 101.2,194.4 101.9,204.3 102.5,214.3 103.2,224.2 103.9,234.2 104.6,244.2 105.3,254.1 106.0,264.1 106.8,274.0 107.5,284.0 108.3,294.0 109.0,303.9 109.8,313.9 110.6,323.8 111.4,333.8 112.2,343.8 113.0,353.7 113.9,363.7 114.7,373.6 115.6,383.6 116.5,393.6 117.4,403.5 118.4,413.5 119.3,423.4 120.3,433.4 121.3,443.4 122.3,453.3 123.3,463.3 124.3,473.2 125.4,483.2 126.4,493.2 127.5,503.1 128.6,513.1 129.7,523.0 130.8,533.0"/>
<polyline points="575.8,35.0 575.5,45.0 575.3,54.9 575.0,64.9 574.8,74.8 574.6,84.8 574.4,94.8 574.1,104.7 573.9,114.7 573.7,124.6 573.5,134.6 573.3,144.6 573.1,154.5 572.9,164.5 572.7,174.4 572.5,184.4 572.3,194.4 572.1,204.3 571.9,214.3 571.6,224.2 571.4,234.2 571.1,244.2 570.9,254.1 570.6,264.1 570.3,274.0 570.1,284.0 569.8,294.0 569.4,303.9 569.1,313.9 568.8,323.8 568.4,333.8 568.0,343.8 567.7,353.7 567.3,363.7 566.8,373.6 566.4,383.6 565.9,393.6 565.5,403.5 565.0,413.5 564.5,423.4 564.0,433.4 563.4,443.4 562.9,453.3 562.3,463.3 561.7,473.2 561.1,483.2 560.5,493.2 559.9,503.1 559.3,513.1 558.6,523.0 558.0,533.0"/>
<polyline points="80.2,35.0 81.2,45.0 82.0,54.9 82.9,64.9 83.8,74.8 84.6,84.8 85.4,94.8 86.1,104.7 86.9,114.7 87.7,124.6 88.4,134.6 89.1,144.6 89.8,154.5 90.6,164.5 91.3,174.4 92.0,184.4 92.7,194.4 93.4,204.3 94.1,214.3 94.8,224.2 95.5,234.2 96.2,244.2 97.0,254.1 97.7,264.1 98.5,274.0 99.2,284.0 100.0,294.0 100.8,303.9 101.6,313.9 102.4,323.8 103.2,333.8 104.0,343.8 104.9,353.7 105.7,363.7 106.6,373.6 107.5,383.6 108.4,393.6 109.4,403.5 110.3,413.5 111.3,423.4 112.3,433.4 113.3,443.4 114.3,453.3 115.4,463.3 116.4,473.2 117.5,483.2 118.6,493.2 119.7,503.1 120.9,513.1 122.0,523.0 123.2,533.0"/>
<polyline points="584.8,35.0 584.5,45.0 584.2,54.9 583.9,64.9 583.6,74.8 583.3,84.8 583.1,94.8 582.8,104.7 582.6,114.7 582.3,124.6 582.1,134.6 581.9,144.6 581.7,154.5 581.4,164.5 581.2,174.4 581.0,184.4 580.8,194.4 580.6,204.3 580.3,214.3 580.1,224.2 579.9,234.2 579.6,244.2 579.4,254.1 579.1,264.1 578.8,274.0 578.5,284.0 578.2,294.0 577.9,303.9 577.6,313.9 577.2,323.8 576.9,333.8 576.5,343.8 576.1,353.7 575.7,363.7 575.3,373.6 574.8,383.6 574.3,393.6 573.9,403.5 573.3,413.5 572.8,423.4 572.3,433.4 571.7,443.4 571.1,453.3 570.5,463.3 569.9,473.2 569.2,483.2 568.6,493.2 567.9,503.1 567.2,513.1 566.5,523.0 565.8,533.0"/>
<polyline points="70.9,35.0 71.9,45.0 72.9,54.9 73.8,64.9 74.7,74.8 75.6,84.8 76.5,94.8 77.3,104.7 78.1,114.7 78.9,124.6 79.7,134.6 80.5,144.6 81.2,154.5 82.0,164.5 82.7,174.4 83.4,184.4 84.2,194.4 84.9,204.3 85.7,214.3 86.4,224.2 87.1,234.2 87.9,244.2 88.6,254.1 89.4,264.1 90.1,274.0 90.9,284.0 91.7,294.0 92.5,303.9 93.3,313.9 94.1,323.8 95.0,333.8 95.8,343.8 96.7,353.7 97.6,363.7 98.5,373.6 99.4,383.6 100.4,393.6 101.3,403.5 102.3,413.5 103.3,423.4 104.3,433.4 105.4,443.4 106.4,453.3 107.5,463.3 108.6,473.2 109.7,483.2 110.8,493.2 112.0,503.1 113.2,513.1 114.4,523.0 115.6,533.0"/>
<polyline points="593.9,35.0 593.5,45.0 593.1,54.9 592.7,64.9 592.4,74.8 592.1,84.8 591.8,94.8 591.5,104.7 591.2,114.7 590.9,124.6 590.7,134.6 590.4,144.6 590.2,154.5 590.0,164.5 589.7,174.4 589.5,184.4 589.3,194.4 589.0,204.3 588.8,214.3 588.6,224.2 588.3,234.2 588.1,244.2 587.8,254.1 587.6,264.1 587.3,274.0 587.0,284.0 586.7,294.0 586.4,303.9 586.1,313.9 585.7,323.8 585.3,333.8 585.0,343.8 584.6,353.7 584.1,363.7 583.7,373.6 583.2,383.6 582.7,393.6 582.2,403.5 581.7,413.5 581.2,423.4 580.6,433.4 580.0,443.4 579.4,453.3 578.7,463.3 578.0,473.2 577.3,483.2 576.6,493.2 575.9,503.1 575.1,513.1 574.4,523.0 573.6,533.0"/>
<polyline points="61.6,35.0 62.7,45.0 63.7,54.9 64.7,64.9 65.7,74.8 66.6,84.8 67.6,94.8 68.4,104.7 69.3,114.7 70.2,124.6 71.0,134.6 71.8,144.6 72.6,154.5 73.4,164.5 74.1,174.4 74.9,184.4 75.7,194.4 76.4,204.3 77.2,214.3 78.0,224.2 78.7,234.2 79.5,244.2 80.3,254.1 81.1,264.1 81.8,274.0 82.6,284.0 83.4,294.0 84.3,303.9 85.1,313.9 85.9,323.8 86.8,333.8 87.7,343.8 88.6,353.7 89.5,363.7 90.4,373.6 91.3,383.6 92.3,393.6 93.3,403.5 94.3,413.5 95.3,423.4 96.3,433.4 97.4,443.4 98.5,453.3 99.6,463.3 100.7,473.2 101.9,483.2 103.1,493.2 104.2,503.1 105.5,513.1 106.7,523.0 107.9,533.0"/>
<polyline points="602.9,35.0 602.4,45.0 602.0,54.9 601.5,64.9 601.2,74.8 600.8,84.8 600.4,94.8 600.1,104.7 599.8,114.7 599.5,124.6 599.3,134.6 599.0,144.6 598.7,154.5 598.5,164.5 598.2,174.4 598.0,184.4 597.8,194.4 597.5,204.3 597.3,214.3 597.1,224.2 596.8,234.2 596.6,244.2 596.3,254.1 596.0,264.1 595.8,274.0 595.5,284.0 595.2,294.0 594.9,303.9 594.5,313.9 594.2,323.8 593.8,333.8 593.4,343.8 593.0,353.7 592.6,363.7 592.1,373.6 591.7,383.6 591.2,393.6 590.6,403.5 590.1,413.5 589.5,423.4 588.9,433.4 588.2,443.4 587.6,453.3 586.9,463.3 586.2,473.2 585.4,483.2 584.7,493.2 583.9,503.1 583.1,513.1 582.2,523.0 581.4,533.0"/>
<polyline points="52.3,35.0 53.4,45.0 54.6,54.9 55.6,64.9 56.7,74.8 57.7,84.8 58.7,94.8 59.6,104.7 60.5,114.7 61.4,124.6 62.3,134.6 63.1,144.6 64.0,154.5 64.8,164.5 65.6,174.4 66.4,184.4 67.2,194.4 68.0,204.3 68.8,214.3 69.6,224.2 70.3,234.2 71.1,244.2 71.9,254.1 72.7,264.1 73.5,274.0 74.3,284.0 75.2,294.0 76.0,303.9 76.9,313.9 77.7,323.8 78.6,333.8 79.5,343.8 80.4,353.7 81.3,363.7 82.3,373.6 83.2,383.6 84.2,393.6 85.2,403.5 86.3,413.5 87.3,423.4 88.4,433.4 89.5,443.4 90.6,453.3 91.7,463.3 92.9,473.2 94.1,483.2 95.3,493.2 96.5,503.1 97.7,513.1 99.0,523.0 100.3,533.0"/>
<polyline points="611.9,35.0 611.4,45.0 610.9,54.9 610.4,64.9 609.9,74.8 609.5,84.8 609.1,94.8 608.8,104.7 608.4,114.7 608.1,124.6 607.8,134.6 607.5,144.6 607.3,154.5 607.0,164.5 606.8,174.4 606.5,184.4 606.3,194.4 606.0,204.3 605.8,214.3 605.5,224.2 605.3,234.2 605.0,244.2 604.8,254.1 604.5,264.1 604.2,274.0 604.0,284.0 603.7,294.0 603.3,303.9 603.0,313.9 602.7,323.8 602.3,333.8 601.9,343.8 601.5,353.7 601.0,363.7 600.6,373.6 600.1,383.6 599.6,393.6 599.0,403.5 598.4,413.5 597.8,423.4 597.2,433.4 596.5,443.4 595.8,453.3 595.1,463.3 594.3,473.2 593.5,483.2 592.7,493.2 591.9,503.1 591.0,513.1 590.1,523.0 589.2,533.0"/>
<polyline points="42.9,35.0 44.2,45.0 45.4,54.9 46.6,64.9 47.7,74.8 48.7,84.8 49.8,94.8 50.7,104.7 51.7,114.7 52.6,124.6 53.6,134.6 54.5,144.6 55.3,154.5 56.2,164.5 57.0,174.4 57.9,184.4 58.7,194.4 59.5,204.3 60.3,214.3 61.1,224.2 61.9,234.2 62.8,244.2 63.6,254.1 64.4,264.1 65.2,274.0 66.1,284.0 66.9,294.0 67.8,303.9 68.6,313.9 69.5,323.8 70.4,333.8 71.3,343.8 72.2,353.7 73.2,363.7 74.1,373.6 75.1,383.6 76.1,393.6 77.2,403.5 78.2,413.5 79.3,423.4 80.4,433.4 81.5,443.4 82.7,453.3 83.8,463.3 85.0,473.2 86.2,483.2 87.5,493.2 88.7,503.1 90.0,513.1 91.3,523.0 92.7,533.0"/>
<polyline points="33.6,35.0 35.0,45.0 36.2,54.9 37.5,64.9 38.6,74.8 39.8,84.8 40.8,94.8 41.9,104.7 42.9,114.7 43.9,124.6 44.9,134.6 45.8,144.6 46.7,154.5 47.6,164.5 48.5,174.4 49.3,184.4 50.2,194.4 51.0,204.3 51.9,214.3 52.7,224.2 53.5,234.2 54.4,244.2 55.2,254.1 56.1,264.1 56.9,274.0 57.8,284.0 58.6,294.0 59.5,303.9 60.4,313.9 61.3,323.8 62.2,333.8 63.1,343.8 64.1,353.7 65.0,363.7 66.0,373.6 67.0,383.6 68.1,393.6 69.1,403.5 70.2,413.5 71.3,423.4 72.4,433.4 73.6,443.4 74.7,453.3 75.9,463.3 77.2,473.2 78.4,483.2 79.7,493.2 81.0,503.1 82.3,513.1 83.7,523.0 85.0,533.0"/>
</g></g>
<rect x="77.2" y="37.0" width="517.1" height="494.0" fill="none" stroke="#000" stroke-width="2"/>
<path d="M77.2 532.0v4.8 M76.2 531.0h-4.8 M109.5 532.0v2.6 M76.2 500.1h-2.6 M141.8 532.0v4.8 M76.2 469.2h-4.8 M174.2 532.0v2.6 M76.2 438.4h-2.6 M206.5 532.0v4.8 M76.2 407.5h-4.8 M238.8 532.0v2.6 M76.2 376.6h-2.6 M271.1 532.0v4.8 M76.2 345.8h-4.8 M303.4 532.0v2.6 M76.2 314.9h-2.6 M335.7 532.0v4.8 M76.2 284.0h-4.8 M368.1 532.0v2.6 M76.2 253.1h-2.6 M400.4 532.0v4.8 M76.2 222.2h-4.8 M432.7 532.0v2.6 M76.2 191.4h-2.6 M465.0 532.0v4.8 M76.2 160.5h-4.8 M497.3 532.0v2.6 M76.2 129.6h-2.6 M529.7 532.0v4.8 M76.2 98.8h-4.8 M562.0 532.0v2.6 M76.2 67.9h-2.6 M594.3 532.0v4.8 M76.2 37.0h-4.8" stroke="#000" stroke-width="2" fill="none"/>
<g font-family="'Liberation Serif', serif" font-weight="bold" font-size="18px" fill="#000" stroke="#000" stroke-width="0.45">
<text x="77.2" y="555.7" text-anchor="middle">-10.0</text>
<text x="66" y="537.0" text-anchor="end">-10.0</text>
<text x="141.8" y="555.7" text-anchor="middle">-7.5</text>
<text x="66" y="475.2" text-anchor="end">-7.5</text>
<text x="206.5" y="555.7" text-anchor="middle">-5.0</text>
<text x="66" y="413.5" text-anchor="end">-5.0</text>
<text x="271.1" y="555.7" text-anchor="middle">-2.5</text>
<text x="66" y="351.8" text-anchor="end">-2.5</text>
<text x="335.7" y="555.7" text-anchor="middle">0.0</text>
<text x="66" y="290.0" text-anchor="end">0.0</text>
<text x="400.4" y="555.7" text-anchor="middle">2.5</text>
<text x="66" y="228.2" text-anchor="end">2.5</text>
<text x="465.0" y="555.7" text-anchor="middle">5.0</text>
<text x="66" y="166.5" text-anchor="end">5.0</text>
<text x="529.7" y="555.7" text-anchor="middle">7.5</text>
<text x="66" y="104.8" text-anchor="end">7.5</text>
<text x="594.3" y="555.7" text-anchor="middle">10.0</text>
<text x="66" y="43.0" text-anchor="end">10.0</text>
</g>
<text x="336" y="593" text-anchor="middle" font-family="'Liberation Serif', serif" font-size="26.5px" fill="#000" stroke="#000" stroke-width="0.5">δψ %</text>
<text transform="translate(20.8 283.5) rotate(-90)" text-anchor="middle" font-family="'Liberation Serif', serif" font-size="26.5px" fill="#000" stroke="#000" stroke-width="0.5">δζ %</text>
<rect x="623.4" y="42.60" width="21.0" height="481.40" fill="#700000"/>
<rect x="623.4" y="59.20" width="21.0" height="464.80" fill="#8e0000"/>
<rect x="623.4" y="75.80" width="21.0" height="448.20" fill="#a80000"/>
<rect x="623.4" y="92.40" width="21.0" height="431.60" fill="#c00000"/>
<rect x="623.4" y="109.00" width="21.0" height="415.00" fill="#d60000"/>
<rect x="623.4" y="125.60" width="21.0" height="398.40" fill="#ec0000"/>
<rect x="623.4" y="142.20" width="21.0" height="381.80" fill="#fc0000"/>
<rect x="623.4" y="158.80" width="21.0" height="365.20" fill="#ff0000"/>
<rect x="623.4" y="175.40" width="21.0" height="348.60" fill="#ff0000"/>
<rect x="623.4" y="192.00" width="21.0" height="332.00" fill="#ff0000"/>
<rect x="623.4" y="208.60" width="21.0" height="315.40" fill="#ff3000"/>
<rect x="623.4" y="225.20" width="21.0" height="298.80" fill="#ff6600"/>
<rect x="623.4" y="241.80" width="21.0" height="282.20" fill="#ff9900"/>
<rect x="623.4" y="258.40" width="21.0" height="265.60" fill="#ffcc00"/>
<rect x="623.4" y="275.00" width="21.0" height="249.00" fill="#ffff00"/>
<rect x="623.4" y="291.60" width="21.0" height="232.40" fill="#d4ff00"/>
<rect x="623.4" y="308.20" width="21.0" height="215.80" fill="#a5ff00"/>
<rect x="623.4" y="324.80" width="21.0" height="199.20" fill="#76ff00"/>
<rect x="623.4" y="341.40" width="21.0" height="182.60" fill="#40ff00"/>
<rect x="623.4" y="358.00" width="21.0" height="166.00" fill="#00f000"/>
<rect x="623.4" y="374.60" width="21.0" height="149.40" fill="#00ffb4"/>
<rect x="623.4" y="391.20" width="21.0" height="132.80" fill="#00e1ff"/>
<rect x="623.4" y="407.80" width="21.0" height="116.20" fill="#00a5ff"/>
<rect x="623.4" y="424.40" width="21.0" height="99.60" fill="#0055ff"/>
<rect x="623.4" y="441.00" width="21.0" height="83.00" fill="#0000ff"/>
<rect x="623.4" y="457.60" width="21.0" height="66.40" fill="#5500ff"/>
<rect x="623.4" y="474.20" width="21.0" height="49.80" fill="#8000d7"/>
<rect x="623.4" y="490.80" width="21.0" height="33.20" fill="#8000a0"/>
<rect x="623.4" y="507.40" width="21.0" height="16.60" fill="#6b006b"/>
<rect x="623.4" y="42.6" width="21.0" height="481.4" fill="none" stroke="#000" stroke-width="1.2"/>
<g font-family="'Liberation Serif', serif" font-weight="bold" font-size="15.4px" fill="#000" stroke="#000" stroke-width="0.4">
<text x="655" y="529.0">1.00</text>
<text x="655" y="495.8">1.05</text>
<text x="655" y="462.6">1.11</text>
<text x="655" y="429.4">1.16</text>
<text x="655" y="396.2">1.22</text>
<text x="655" y="363.0">1.27</text>
<text x="655" y="329.8">1.33</text>
<text x="655" y="296.6">1.38</text>
<text x="655" y="263.4">1.43</text>
<text x="655" y="230.2">1.49</text>
<text x="655" y="197.0">1.54</text>
<text x="655" y="163.8">1.60</text>
<text x="655" y="130.6">1.65</text>
<text x="655" y="97.4">1.70</text>
<text x="655" y="64.2">1.76</text>
<text x="655" y="47.6">1.79</text>
</g>
<path d="M644.4 524.00h5 M644.4 490.80h5 M644.4 457.60h5 M644.4 424.40h5 M644.4 391.20h5 M644.4 358.00h5 M644.4 324.80h5 M644.4 291.60h5 M644.4 258.40h5 M644.4 225.20h5 M644.4 192.00h5 M644.4 158.80h5 M644.4 125.60h5 M644.4 92.40h5 M644.4 59.20h5 M644.4 42.60h5" stroke="#000" stroke-width="1.6" fill="none"/>
<text x="611" y="19.8" font-family="'Liberation Serif', serif" font-weight="bold" font-size="24.5px" fill="#000" stroke="#000" stroke-width="0.4">MF<tspan font-size="16px" dx="1.5" dy="7">r</tspan></text>
</svg>
</body></html>
